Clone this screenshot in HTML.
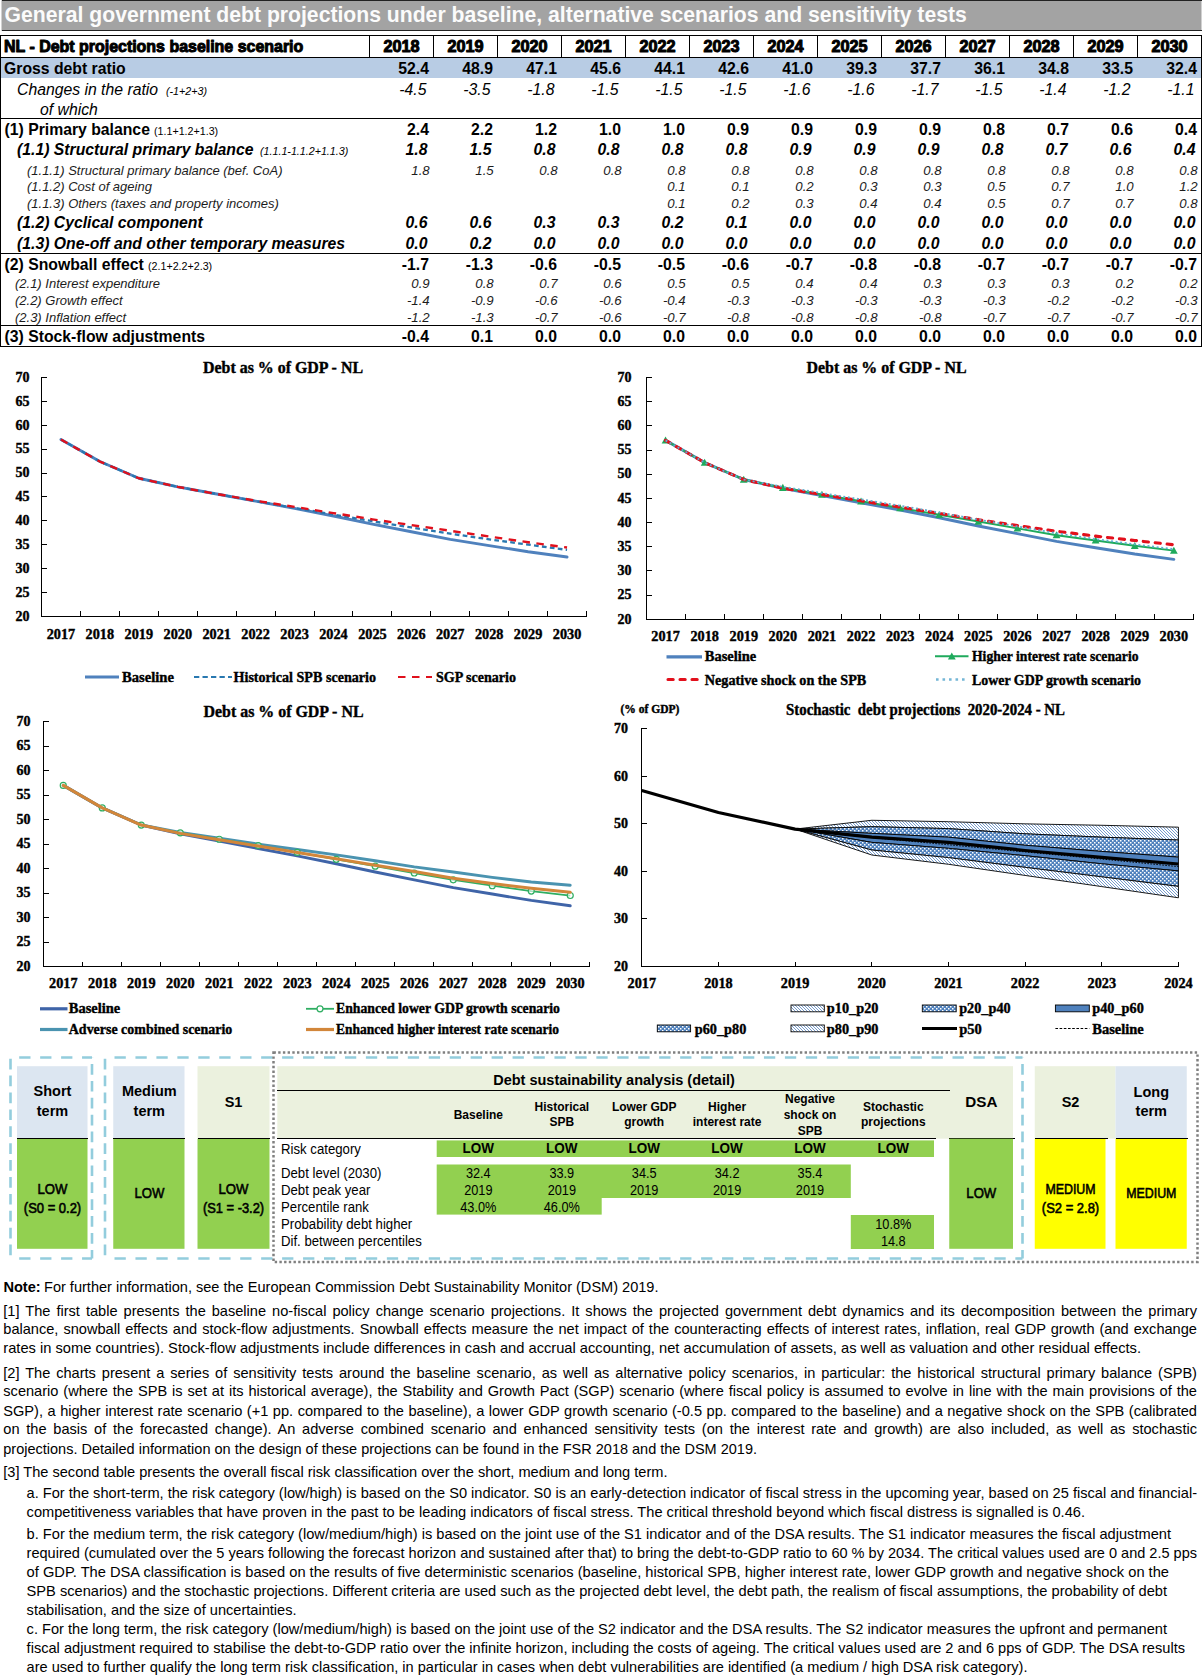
<!DOCTYPE html>
<html><head><meta charset="utf-8"><title>General government debt projections - NL</title>
<style>
html,body{margin:0;padding:0;background:#fff;}
svg{display:block;font-family:"Liberation Sans",sans-serif;}
text{fill:#000;white-space:pre;}
.b{font-weight:bold;}
.i{font-style:italic;}
.bi{font-weight:bold;font-style:italic;}
.hv{font-weight:bold;stroke:#000;stroke-width:0.95px;stroke-linejoin:round;}
.i2{font-style:italic;fill:#1c1c1c;}
.sb{font-weight:normal;stroke:#000;stroke-width:0.55px;}
.s{font-family:"Liberation Serif",serif;font-weight:bold;stroke:#000;stroke-width:0.4px;}
</style></head>
<body>
<svg width="1203" height="1678" viewBox="0 0 1203 1678">
<rect width="1203" height="1678" fill="#fff"/>
<rect x="1.50" y="0.00" width="1200.00" height="31.00" fill="#a3a3a3"/>
<line x1="1.50" y1="0.50" x2="1201.50" y2="0.50" stroke="#222" stroke-width="1" shape-rendering="crispEdges"/>
<line x1="1.50" y1="30.50" x2="1201.50" y2="30.50" stroke="#222" stroke-width="1" shape-rendering="crispEdges"/>
<text class="b" style="fill:#fbfbfb" font-size="21" transform="translate(4.60 21.70) scale(1.0080 1.0600)">General government debt projections under baseline, alternative scenarios and sensitivity tests</text>
<rect x="1.00" y="57.50" width="1200.50" height="20.50" fill="#b8cce4"/>
<line x1="0.00" y1="35.30" x2="1202.00" y2="35.30" stroke="#000" stroke-width="1.3" shape-rendering="crispEdges"/>
<line x1="0.60" y1="35.00" x2="0.60" y2="346.50" stroke="#000" stroke-width="1.2" shape-rendering="crispEdges"/>
<line x1="1201.50" y1="35.00" x2="1201.50" y2="346.50" stroke="#000" stroke-width="1" shape-rendering="crispEdges"/>
<line x1="0.00" y1="346.30" x2="1202.00" y2="346.30" stroke="#000" stroke-width="1.3" shape-rendering="crispEdges"/>
<line x1="0.50" y1="57.50" x2="1201.50" y2="57.50" stroke="#000" stroke-width="1" shape-rendering="crispEdges"/>
<line x1="369.50" y1="35.00" x2="369.50" y2="57.50" stroke="#000" stroke-width="1" shape-rendering="crispEdges"/>
<line x1="433.50" y1="35.00" x2="433.50" y2="57.50" stroke="#000" stroke-width="1" shape-rendering="crispEdges"/>
<line x1="497.50" y1="35.00" x2="497.50" y2="57.50" stroke="#000" stroke-width="1" shape-rendering="crispEdges"/>
<line x1="561.50" y1="35.00" x2="561.50" y2="57.50" stroke="#000" stroke-width="1" shape-rendering="crispEdges"/>
<line x1="625.50" y1="35.00" x2="625.50" y2="57.50" stroke="#000" stroke-width="1" shape-rendering="crispEdges"/>
<line x1="689.50" y1="35.00" x2="689.50" y2="57.50" stroke="#000" stroke-width="1" shape-rendering="crispEdges"/>
<line x1="753.50" y1="35.00" x2="753.50" y2="57.50" stroke="#000" stroke-width="1" shape-rendering="crispEdges"/>
<line x1="817.50" y1="35.00" x2="817.50" y2="57.50" stroke="#000" stroke-width="1" shape-rendering="crispEdges"/>
<line x1="881.50" y1="35.00" x2="881.50" y2="57.50" stroke="#000" stroke-width="1" shape-rendering="crispEdges"/>
<line x1="945.50" y1="35.00" x2="945.50" y2="57.50" stroke="#000" stroke-width="1" shape-rendering="crispEdges"/>
<line x1="1009.50" y1="35.00" x2="1009.50" y2="57.50" stroke="#000" stroke-width="1" shape-rendering="crispEdges"/>
<line x1="1073.50" y1="35.00" x2="1073.50" y2="57.50" stroke="#000" stroke-width="1" shape-rendering="crispEdges"/>
<line x1="1137.50" y1="35.00" x2="1137.50" y2="57.50" stroke="#000" stroke-width="1" shape-rendering="crispEdges"/>
<line x1="0.50" y1="118.50" x2="1201.50" y2="118.50" stroke="#000" stroke-width="1" shape-rendering="crispEdges"/>
<line x1="0.50" y1="253.50" x2="1201.50" y2="253.50" stroke="#000" stroke-width="1" shape-rendering="crispEdges"/>
<line x1="0.50" y1="325.70" x2="1201.50" y2="325.70" stroke="#000" stroke-width="1" shape-rendering="crispEdges"/>
<text class="hv" font-size="15.5" transform="translate(4.00 51.50) scale(1.0300 1.1000)">NL - Debt projections baseline scenario</text>
<text class="hv" text-anchor="middle" font-size="15.5" transform="translate(401.50 52.00) scale(1.0500 1.1000)">2018</text>
<text class="hv" text-anchor="middle" font-size="15.5" transform="translate(465.50 52.00) scale(1.0500 1.1000)">2019</text>
<text class="hv" text-anchor="middle" font-size="15.5" transform="translate(529.50 52.00) scale(1.0500 1.1000)">2020</text>
<text class="hv" text-anchor="middle" font-size="15.5" transform="translate(593.50 52.00) scale(1.0500 1.1000)">2021</text>
<text class="hv" text-anchor="middle" font-size="15.5" transform="translate(657.50 52.00) scale(1.0500 1.1000)">2022</text>
<text class="hv" text-anchor="middle" font-size="15.5" transform="translate(721.50 52.00) scale(1.0500 1.1000)">2023</text>
<text class="hv" text-anchor="middle" font-size="15.5" transform="translate(785.50 52.00) scale(1.0500 1.1000)">2024</text>
<text class="hv" text-anchor="middle" font-size="15.5" transform="translate(849.50 52.00) scale(1.0500 1.1000)">2025</text>
<text class="hv" text-anchor="middle" font-size="15.5" transform="translate(913.50 52.00) scale(1.0500 1.1000)">2026</text>
<text class="hv" text-anchor="middle" font-size="15.5" transform="translate(977.50 52.00) scale(1.0500 1.1000)">2027</text>
<text class="hv" text-anchor="middle" font-size="15.5" transform="translate(1041.50 52.00) scale(1.0500 1.1000)">2028</text>
<text class="hv" text-anchor="middle" font-size="15.5" transform="translate(1105.50 52.00) scale(1.0500 1.1000)">2029</text>
<text class="hv" text-anchor="middle" font-size="15.5" transform="translate(1169.50 52.00) scale(1.0500 1.1000)">2030</text>
<text class="b" font-size="15.5" transform="translate(4.00 74.00) scale(1.0180 1.1000)">Gross debt ratio</text>
<text class="b" text-anchor="end" font-size="15.5" transform="translate(429.00 74.00) scale(1.0180 1.1000)">52.4</text>
<text class="b" text-anchor="end" font-size="15.5" transform="translate(493.00 74.00) scale(1.0180 1.1000)">48.9</text>
<text class="b" text-anchor="end" font-size="15.5" transform="translate(557.00 74.00) scale(1.0180 1.1000)">47.1</text>
<text class="b" text-anchor="end" font-size="15.5" transform="translate(621.00 74.00) scale(1.0180 1.1000)">45.6</text>
<text class="b" text-anchor="end" font-size="15.5" transform="translate(685.00 74.00) scale(1.0180 1.1000)">44.1</text>
<text class="b" text-anchor="end" font-size="15.5" transform="translate(749.00 74.00) scale(1.0180 1.1000)">42.6</text>
<text class="b" text-anchor="end" font-size="15.5" transform="translate(813.00 74.00) scale(1.0180 1.1000)">41.0</text>
<text class="b" text-anchor="end" font-size="15.5" transform="translate(877.00 74.00) scale(1.0180 1.1000)">39.3</text>
<text class="b" text-anchor="end" font-size="15.5" transform="translate(941.00 74.00) scale(1.0180 1.1000)">37.7</text>
<text class="b" text-anchor="end" font-size="15.5" transform="translate(1005.00 74.00) scale(1.0180 1.1000)">36.1</text>
<text class="b" text-anchor="end" font-size="15.5" transform="translate(1069.00 74.00) scale(1.0180 1.1000)">34.8</text>
<text class="b" text-anchor="end" font-size="15.5" transform="translate(1133.00 74.00) scale(1.0180 1.1000)">33.5</text>
<text class="b" text-anchor="end" font-size="15.5" transform="translate(1197.00 74.00) scale(1.0180 1.1000)">32.4</text>
<text class="i" font-size="15.5" transform="translate(17.00 94.50) scale(1.0180 1.1000)">Changes in the ratio</text>
<text class="i" font-size="10.7" transform="translate(166.00 94.50) scale(1.0000 1.1000)">(-1+2+3)</text>
<text class="i" text-anchor="end" font-size="15.5" transform="translate(426.50 94.50) scale(1.0180 1.1000)">-4.5</text>
<text class="i" text-anchor="end" font-size="15.5" transform="translate(490.50 94.50) scale(1.0180 1.1000)">-3.5</text>
<text class="i" text-anchor="end" font-size="15.5" transform="translate(554.50 94.50) scale(1.0180 1.1000)">-1.8</text>
<text class="i" text-anchor="end" font-size="15.5" transform="translate(618.50 94.50) scale(1.0180 1.1000)">-1.5</text>
<text class="i" text-anchor="end" font-size="15.5" transform="translate(682.50 94.50) scale(1.0180 1.1000)">-1.5</text>
<text class="i" text-anchor="end" font-size="15.5" transform="translate(746.50 94.50) scale(1.0180 1.1000)">-1.5</text>
<text class="i" text-anchor="end" font-size="15.5" transform="translate(810.50 94.50) scale(1.0180 1.1000)">-1.6</text>
<text class="i" text-anchor="end" font-size="15.5" transform="translate(874.50 94.50) scale(1.0180 1.1000)">-1.6</text>
<text class="i" text-anchor="end" font-size="15.5" transform="translate(938.50 94.50) scale(1.0180 1.1000)">-1.7</text>
<text class="i" text-anchor="end" font-size="15.5" transform="translate(1002.50 94.50) scale(1.0180 1.1000)">-1.5</text>
<text class="i" text-anchor="end" font-size="15.5" transform="translate(1066.50 94.50) scale(1.0180 1.1000)">-1.4</text>
<text class="i" text-anchor="end" font-size="15.5" transform="translate(1130.50 94.50) scale(1.0180 1.1000)">-1.2</text>
<text class="i" text-anchor="end" font-size="15.5" transform="translate(1194.50 94.50) scale(1.0180 1.1000)">-1.1</text>
<text class="i" font-size="15.5" transform="translate(40.00 114.50) scale(1.0180 1.1000)">of which</text>
<text class="b" font-size="15.5" transform="translate(4.50 135.00) scale(1.0180 1.1000)">(1) Primary balance</text>
<text font-size="10.7" transform="translate(154.00 135.00) scale(1.0000 1.1000)">(1.1+1.2+1.3)</text>
<text class="b" text-anchor="end" font-size="15.5" transform="translate(429.00 135.00) scale(1.0180 1.1000)">2.4</text>
<text class="b" text-anchor="end" font-size="15.5" transform="translate(493.00 135.00) scale(1.0180 1.1000)">2.2</text>
<text class="b" text-anchor="end" font-size="15.5" transform="translate(557.00 135.00) scale(1.0180 1.1000)">1.2</text>
<text class="b" text-anchor="end" font-size="15.5" transform="translate(621.00 135.00) scale(1.0180 1.1000)">1.0</text>
<text class="b" text-anchor="end" font-size="15.5" transform="translate(685.00 135.00) scale(1.0180 1.1000)">1.0</text>
<text class="b" text-anchor="end" font-size="15.5" transform="translate(749.00 135.00) scale(1.0180 1.1000)">0.9</text>
<text class="b" text-anchor="end" font-size="15.5" transform="translate(813.00 135.00) scale(1.0180 1.1000)">0.9</text>
<text class="b" text-anchor="end" font-size="15.5" transform="translate(877.00 135.00) scale(1.0180 1.1000)">0.9</text>
<text class="b" text-anchor="end" font-size="15.5" transform="translate(941.00 135.00) scale(1.0180 1.1000)">0.9</text>
<text class="b" text-anchor="end" font-size="15.5" transform="translate(1005.00 135.00) scale(1.0180 1.1000)">0.8</text>
<text class="b" text-anchor="end" font-size="15.5" transform="translate(1069.00 135.00) scale(1.0180 1.1000)">0.7</text>
<text class="b" text-anchor="end" font-size="15.5" transform="translate(1133.00 135.00) scale(1.0180 1.1000)">0.6</text>
<text class="b" text-anchor="end" font-size="15.5" transform="translate(1197.00 135.00) scale(1.0180 1.1000)">0.4</text>
<text class="bi" font-size="15.5" transform="translate(17.00 155.00) scale(1.0180 1.1000)">(1.1) Structural primary balance</text>
<text class="i" font-size="10.7" transform="translate(260.00 155.00) scale(1.0000 1.1000)">(1.1.1-1.1.2+1.1.3)</text>
<text class="bi" text-anchor="end" font-size="15.5" transform="translate(427.50 155.00) scale(1.0180 1.1000)">1.8</text>
<text class="bi" text-anchor="end" font-size="15.5" transform="translate(491.50 155.00) scale(1.0180 1.1000)">1.5</text>
<text class="bi" text-anchor="end" font-size="15.5" transform="translate(555.50 155.00) scale(1.0180 1.1000)">0.8</text>
<text class="bi" text-anchor="end" font-size="15.5" transform="translate(619.50 155.00) scale(1.0180 1.1000)">0.8</text>
<text class="bi" text-anchor="end" font-size="15.5" transform="translate(683.50 155.00) scale(1.0180 1.1000)">0.8</text>
<text class="bi" text-anchor="end" font-size="15.5" transform="translate(747.50 155.00) scale(1.0180 1.1000)">0.8</text>
<text class="bi" text-anchor="end" font-size="15.5" transform="translate(811.50 155.00) scale(1.0180 1.1000)">0.9</text>
<text class="bi" text-anchor="end" font-size="15.5" transform="translate(875.50 155.00) scale(1.0180 1.1000)">0.9</text>
<text class="bi" text-anchor="end" font-size="15.5" transform="translate(939.50 155.00) scale(1.0180 1.1000)">0.9</text>
<text class="bi" text-anchor="end" font-size="15.5" transform="translate(1003.50 155.00) scale(1.0180 1.1000)">0.8</text>
<text class="bi" text-anchor="end" font-size="15.5" transform="translate(1067.50 155.00) scale(1.0180 1.1000)">0.7</text>
<text class="bi" text-anchor="end" font-size="15.5" transform="translate(1131.50 155.00) scale(1.0180 1.1000)">0.6</text>
<text class="bi" text-anchor="end" font-size="15.5" transform="translate(1195.50 155.00) scale(1.0180 1.1000)">0.4</text>
<text class="i2" font-size="13" transform="translate(27.00 174.50) scale(1.0000 1.0500)">(1.1.1) Structural primary balance (bef. CoA)</text>
<text class="i2" text-anchor="end" font-size="13" transform="translate(429.70 174.50) scale(1.0180 1.0500)">1.8</text>
<text class="i2" text-anchor="end" font-size="13" transform="translate(493.70 174.50) scale(1.0180 1.0500)">1.5</text>
<text class="i2" text-anchor="end" font-size="13" transform="translate(557.70 174.50) scale(1.0180 1.0500)">0.8</text>
<text class="i2" text-anchor="end" font-size="13" transform="translate(621.70 174.50) scale(1.0180 1.0500)">0.8</text>
<text class="i2" text-anchor="end" font-size="13" transform="translate(685.70 174.50) scale(1.0180 1.0500)">0.8</text>
<text class="i2" text-anchor="end" font-size="13" transform="translate(749.70 174.50) scale(1.0180 1.0500)">0.8</text>
<text class="i2" text-anchor="end" font-size="13" transform="translate(813.70 174.50) scale(1.0180 1.0500)">0.8</text>
<text class="i2" text-anchor="end" font-size="13" transform="translate(877.70 174.50) scale(1.0180 1.0500)">0.8</text>
<text class="i2" text-anchor="end" font-size="13" transform="translate(941.70 174.50) scale(1.0180 1.0500)">0.8</text>
<text class="i2" text-anchor="end" font-size="13" transform="translate(1005.70 174.50) scale(1.0180 1.0500)">0.8</text>
<text class="i2" text-anchor="end" font-size="13" transform="translate(1069.70 174.50) scale(1.0180 1.0500)">0.8</text>
<text class="i2" text-anchor="end" font-size="13" transform="translate(1133.70 174.50) scale(1.0180 1.0500)">0.8</text>
<text class="i2" text-anchor="end" font-size="13" transform="translate(1197.70 174.50) scale(1.0180 1.0500)">0.8</text>
<text class="i2" font-size="13" transform="translate(27.00 191.00) scale(1.0000 1.0500)">(1.1.2) Cost of ageing</text>
<text class="i2" text-anchor="end" font-size="13" transform="translate(685.70 191.00) scale(1.0180 1.0500)">0.1</text>
<text class="i2" text-anchor="end" font-size="13" transform="translate(749.70 191.00) scale(1.0180 1.0500)">0.1</text>
<text class="i2" text-anchor="end" font-size="13" transform="translate(813.70 191.00) scale(1.0180 1.0500)">0.2</text>
<text class="i2" text-anchor="end" font-size="13" transform="translate(877.70 191.00) scale(1.0180 1.0500)">0.3</text>
<text class="i2" text-anchor="end" font-size="13" transform="translate(941.70 191.00) scale(1.0180 1.0500)">0.3</text>
<text class="i2" text-anchor="end" font-size="13" transform="translate(1005.70 191.00) scale(1.0180 1.0500)">0.5</text>
<text class="i2" text-anchor="end" font-size="13" transform="translate(1069.70 191.00) scale(1.0180 1.0500)">0.7</text>
<text class="i2" text-anchor="end" font-size="13" transform="translate(1133.70 191.00) scale(1.0180 1.0500)">1.0</text>
<text class="i2" text-anchor="end" font-size="13" transform="translate(1197.70 191.00) scale(1.0180 1.0500)">1.2</text>
<text class="i2" font-size="13" transform="translate(27.00 208.00) scale(1.0000 1.0500)">(1.1.3) Others (taxes and property incomes)</text>
<text class="i2" text-anchor="end" font-size="13" transform="translate(685.70 208.00) scale(1.0180 1.0500)">0.1</text>
<text class="i2" text-anchor="end" font-size="13" transform="translate(749.70 208.00) scale(1.0180 1.0500)">0.2</text>
<text class="i2" text-anchor="end" font-size="13" transform="translate(813.70 208.00) scale(1.0180 1.0500)">0.3</text>
<text class="i2" text-anchor="end" font-size="13" transform="translate(877.70 208.00) scale(1.0180 1.0500)">0.4</text>
<text class="i2" text-anchor="end" font-size="13" transform="translate(941.70 208.00) scale(1.0180 1.0500)">0.4</text>
<text class="i2" text-anchor="end" font-size="13" transform="translate(1005.70 208.00) scale(1.0180 1.0500)">0.5</text>
<text class="i2" text-anchor="end" font-size="13" transform="translate(1069.70 208.00) scale(1.0180 1.0500)">0.7</text>
<text class="i2" text-anchor="end" font-size="13" transform="translate(1133.70 208.00) scale(1.0180 1.0500)">0.7</text>
<text class="i2" text-anchor="end" font-size="13" transform="translate(1197.70 208.00) scale(1.0180 1.0500)">0.8</text>
<text class="bi" font-size="15.5" transform="translate(17.00 227.50) scale(1.0180 1.1000)">(1.2) Cyclical component</text>
<text class="bi" text-anchor="end" font-size="15.5" transform="translate(427.50 227.50) scale(1.0180 1.1000)">0.6</text>
<text class="bi" text-anchor="end" font-size="15.5" transform="translate(491.50 227.50) scale(1.0180 1.1000)">0.6</text>
<text class="bi" text-anchor="end" font-size="15.5" transform="translate(555.50 227.50) scale(1.0180 1.1000)">0.3</text>
<text class="bi" text-anchor="end" font-size="15.5" transform="translate(619.50 227.50) scale(1.0180 1.1000)">0.3</text>
<text class="bi" text-anchor="end" font-size="15.5" transform="translate(683.50 227.50) scale(1.0180 1.1000)">0.2</text>
<text class="bi" text-anchor="end" font-size="15.5" transform="translate(747.50 227.50) scale(1.0180 1.1000)">0.1</text>
<text class="bi" text-anchor="end" font-size="15.5" transform="translate(811.50 227.50) scale(1.0180 1.1000)">0.0</text>
<text class="bi" text-anchor="end" font-size="15.5" transform="translate(875.50 227.50) scale(1.0180 1.1000)">0.0</text>
<text class="bi" text-anchor="end" font-size="15.5" transform="translate(939.50 227.50) scale(1.0180 1.1000)">0.0</text>
<text class="bi" text-anchor="end" font-size="15.5" transform="translate(1003.50 227.50) scale(1.0180 1.1000)">0.0</text>
<text class="bi" text-anchor="end" font-size="15.5" transform="translate(1067.50 227.50) scale(1.0180 1.1000)">0.0</text>
<text class="bi" text-anchor="end" font-size="15.5" transform="translate(1131.50 227.50) scale(1.0180 1.1000)">0.0</text>
<text class="bi" text-anchor="end" font-size="15.5" transform="translate(1195.50 227.50) scale(1.0180 1.1000)">0.0</text>
<text class="bi" font-size="15.5" transform="translate(17.00 248.50) scale(1.0180 1.1000)">(1.3) One-off and other temporary measures</text>
<text class="bi" text-anchor="end" font-size="15.5" transform="translate(427.50 248.50) scale(1.0180 1.1000)">0.0</text>
<text class="bi" text-anchor="end" font-size="15.5" transform="translate(491.50 248.50) scale(1.0180 1.1000)">0.2</text>
<text class="bi" text-anchor="end" font-size="15.5" transform="translate(555.50 248.50) scale(1.0180 1.1000)">0.0</text>
<text class="bi" text-anchor="end" font-size="15.5" transform="translate(619.50 248.50) scale(1.0180 1.1000)">0.0</text>
<text class="bi" text-anchor="end" font-size="15.5" transform="translate(683.50 248.50) scale(1.0180 1.1000)">0.0</text>
<text class="bi" text-anchor="end" font-size="15.5" transform="translate(747.50 248.50) scale(1.0180 1.1000)">0.0</text>
<text class="bi" text-anchor="end" font-size="15.5" transform="translate(811.50 248.50) scale(1.0180 1.1000)">0.0</text>
<text class="bi" text-anchor="end" font-size="15.5" transform="translate(875.50 248.50) scale(1.0180 1.1000)">0.0</text>
<text class="bi" text-anchor="end" font-size="15.5" transform="translate(939.50 248.50) scale(1.0180 1.1000)">0.0</text>
<text class="bi" text-anchor="end" font-size="15.5" transform="translate(1003.50 248.50) scale(1.0180 1.1000)">0.0</text>
<text class="bi" text-anchor="end" font-size="15.5" transform="translate(1067.50 248.50) scale(1.0180 1.1000)">0.0</text>
<text class="bi" text-anchor="end" font-size="15.5" transform="translate(1131.50 248.50) scale(1.0180 1.1000)">0.0</text>
<text class="bi" text-anchor="end" font-size="15.5" transform="translate(1195.50 248.50) scale(1.0180 1.1000)">0.0</text>
<text class="b" font-size="15.5" transform="translate(4.50 270.00) scale(1.0180 1.1000)">(2) Snowball effect</text>
<text font-size="10.7" transform="translate(148.00 270.00) scale(1.0000 1.1000)">(2.1+2.2+2.3)</text>
<text class="b" text-anchor="end" font-size="15.5" transform="translate(429.00 270.00) scale(1.0180 1.1000)">-1.7</text>
<text class="b" text-anchor="end" font-size="15.5" transform="translate(493.00 270.00) scale(1.0180 1.1000)">-1.3</text>
<text class="b" text-anchor="end" font-size="15.5" transform="translate(557.00 270.00) scale(1.0180 1.1000)">-0.6</text>
<text class="b" text-anchor="end" font-size="15.5" transform="translate(621.00 270.00) scale(1.0180 1.1000)">-0.5</text>
<text class="b" text-anchor="end" font-size="15.5" transform="translate(685.00 270.00) scale(1.0180 1.1000)">-0.5</text>
<text class="b" text-anchor="end" font-size="15.5" transform="translate(749.00 270.00) scale(1.0180 1.1000)">-0.6</text>
<text class="b" text-anchor="end" font-size="15.5" transform="translate(813.00 270.00) scale(1.0180 1.1000)">-0.7</text>
<text class="b" text-anchor="end" font-size="15.5" transform="translate(877.00 270.00) scale(1.0180 1.1000)">-0.8</text>
<text class="b" text-anchor="end" font-size="15.5" transform="translate(941.00 270.00) scale(1.0180 1.1000)">-0.8</text>
<text class="b" text-anchor="end" font-size="15.5" transform="translate(1005.00 270.00) scale(1.0180 1.1000)">-0.7</text>
<text class="b" text-anchor="end" font-size="15.5" transform="translate(1069.00 270.00) scale(1.0180 1.1000)">-0.7</text>
<text class="b" text-anchor="end" font-size="15.5" transform="translate(1133.00 270.00) scale(1.0180 1.1000)">-0.7</text>
<text class="b" text-anchor="end" font-size="15.5" transform="translate(1197.00 270.00) scale(1.0180 1.1000)">-0.7</text>
<text class="i2" font-size="13" transform="translate(15.00 288.00) scale(1.0000 1.0500)">(2.1) Interest expenditure</text>
<text class="i2" text-anchor="end" font-size="13" transform="translate(429.70 288.00) scale(1.0180 1.0500)">0.9</text>
<text class="i2" text-anchor="end" font-size="13" transform="translate(493.70 288.00) scale(1.0180 1.0500)">0.8</text>
<text class="i2" text-anchor="end" font-size="13" transform="translate(557.70 288.00) scale(1.0180 1.0500)">0.7</text>
<text class="i2" text-anchor="end" font-size="13" transform="translate(621.70 288.00) scale(1.0180 1.0500)">0.6</text>
<text class="i2" text-anchor="end" font-size="13" transform="translate(685.70 288.00) scale(1.0180 1.0500)">0.5</text>
<text class="i2" text-anchor="end" font-size="13" transform="translate(749.70 288.00) scale(1.0180 1.0500)">0.5</text>
<text class="i2" text-anchor="end" font-size="13" transform="translate(813.70 288.00) scale(1.0180 1.0500)">0.4</text>
<text class="i2" text-anchor="end" font-size="13" transform="translate(877.70 288.00) scale(1.0180 1.0500)">0.4</text>
<text class="i2" text-anchor="end" font-size="13" transform="translate(941.70 288.00) scale(1.0180 1.0500)">0.3</text>
<text class="i2" text-anchor="end" font-size="13" transform="translate(1005.70 288.00) scale(1.0180 1.0500)">0.3</text>
<text class="i2" text-anchor="end" font-size="13" transform="translate(1069.70 288.00) scale(1.0180 1.0500)">0.3</text>
<text class="i2" text-anchor="end" font-size="13" transform="translate(1133.70 288.00) scale(1.0180 1.0500)">0.2</text>
<text class="i2" text-anchor="end" font-size="13" transform="translate(1197.70 288.00) scale(1.0180 1.0500)">0.2</text>
<text class="i2" font-size="13" transform="translate(15.00 305.00) scale(1.0000 1.0500)">(2.2) Growth effect</text>
<text class="i2" text-anchor="end" font-size="13" transform="translate(429.70 305.00) scale(1.0180 1.0500)">-1.4</text>
<text class="i2" text-anchor="end" font-size="13" transform="translate(493.70 305.00) scale(1.0180 1.0500)">-0.9</text>
<text class="i2" text-anchor="end" font-size="13" transform="translate(557.70 305.00) scale(1.0180 1.0500)">-0.6</text>
<text class="i2" text-anchor="end" font-size="13" transform="translate(621.70 305.00) scale(1.0180 1.0500)">-0.6</text>
<text class="i2" text-anchor="end" font-size="13" transform="translate(685.70 305.00) scale(1.0180 1.0500)">-0.4</text>
<text class="i2" text-anchor="end" font-size="13" transform="translate(749.70 305.00) scale(1.0180 1.0500)">-0.3</text>
<text class="i2" text-anchor="end" font-size="13" transform="translate(813.70 305.00) scale(1.0180 1.0500)">-0.3</text>
<text class="i2" text-anchor="end" font-size="13" transform="translate(877.70 305.00) scale(1.0180 1.0500)">-0.3</text>
<text class="i2" text-anchor="end" font-size="13" transform="translate(941.70 305.00) scale(1.0180 1.0500)">-0.3</text>
<text class="i2" text-anchor="end" font-size="13" transform="translate(1005.70 305.00) scale(1.0180 1.0500)">-0.3</text>
<text class="i2" text-anchor="end" font-size="13" transform="translate(1069.70 305.00) scale(1.0180 1.0500)">-0.2</text>
<text class="i2" text-anchor="end" font-size="13" transform="translate(1133.70 305.00) scale(1.0180 1.0500)">-0.2</text>
<text class="i2" text-anchor="end" font-size="13" transform="translate(1197.70 305.00) scale(1.0180 1.0500)">-0.3</text>
<text class="i2" font-size="13" transform="translate(15.00 322.00) scale(1.0000 1.0500)">(2.3) Inflation effect</text>
<text class="i2" text-anchor="end" font-size="13" transform="translate(429.70 322.00) scale(1.0180 1.0500)">-1.2</text>
<text class="i2" text-anchor="end" font-size="13" transform="translate(493.70 322.00) scale(1.0180 1.0500)">-1.3</text>
<text class="i2" text-anchor="end" font-size="13" transform="translate(557.70 322.00) scale(1.0180 1.0500)">-0.7</text>
<text class="i2" text-anchor="end" font-size="13" transform="translate(621.70 322.00) scale(1.0180 1.0500)">-0.6</text>
<text class="i2" text-anchor="end" font-size="13" transform="translate(685.70 322.00) scale(1.0180 1.0500)">-0.7</text>
<text class="i2" text-anchor="end" font-size="13" transform="translate(749.70 322.00) scale(1.0180 1.0500)">-0.8</text>
<text class="i2" text-anchor="end" font-size="13" transform="translate(813.70 322.00) scale(1.0180 1.0500)">-0.8</text>
<text class="i2" text-anchor="end" font-size="13" transform="translate(877.70 322.00) scale(1.0180 1.0500)">-0.8</text>
<text class="i2" text-anchor="end" font-size="13" transform="translate(941.70 322.00) scale(1.0180 1.0500)">-0.8</text>
<text class="i2" text-anchor="end" font-size="13" transform="translate(1005.70 322.00) scale(1.0180 1.0500)">-0.7</text>
<text class="i2" text-anchor="end" font-size="13" transform="translate(1069.70 322.00) scale(1.0180 1.0500)">-0.7</text>
<text class="i2" text-anchor="end" font-size="13" transform="translate(1133.70 322.00) scale(1.0180 1.0500)">-0.7</text>
<text class="i2" text-anchor="end" font-size="13" transform="translate(1197.70 322.00) scale(1.0180 1.0500)">-0.7</text>
<text class="b" font-size="15.5" transform="translate(4.50 341.50) scale(1.0180 1.1000)">(3) Stock-flow adjustments</text>
<text class="b" text-anchor="end" font-size="15.5" transform="translate(429.00 341.50) scale(1.0180 1.1000)">-0.4</text>
<text class="b" text-anchor="end" font-size="15.5" transform="translate(493.00 341.50) scale(1.0180 1.1000)">0.1</text>
<text class="b" text-anchor="end" font-size="15.5" transform="translate(557.00 341.50) scale(1.0180 1.1000)">0.0</text>
<text class="b" text-anchor="end" font-size="15.5" transform="translate(621.00 341.50) scale(1.0180 1.1000)">0.0</text>
<text class="b" text-anchor="end" font-size="15.5" transform="translate(685.00 341.50) scale(1.0180 1.1000)">0.0</text>
<text class="b" text-anchor="end" font-size="15.5" transform="translate(749.00 341.50) scale(1.0180 1.1000)">0.0</text>
<text class="b" text-anchor="end" font-size="15.5" transform="translate(813.00 341.50) scale(1.0180 1.1000)">0.0</text>
<text class="b" text-anchor="end" font-size="15.5" transform="translate(877.00 341.50) scale(1.0180 1.1000)">0.0</text>
<text class="b" text-anchor="end" font-size="15.5" transform="translate(941.00 341.50) scale(1.0180 1.1000)">0.0</text>
<text class="b" text-anchor="end" font-size="15.5" transform="translate(1005.00 341.50) scale(1.0180 1.1000)">0.0</text>
<text class="b" text-anchor="end" font-size="15.5" transform="translate(1069.00 341.50) scale(1.0180 1.1000)">0.0</text>
<text class="b" text-anchor="end" font-size="15.5" transform="translate(1133.00 341.50) scale(1.0180 1.1000)">0.0</text>
<text class="b" text-anchor="end" font-size="15.5" transform="translate(1197.00 341.50) scale(1.0180 1.1000)">0.0</text>
<line x1="41.50" y1="377.00" x2="41.50" y2="616.75" stroke="#000" stroke-width="1" shape-rendering="crispEdges"/>
<line x1="41.00" y1="616.25" x2="587.02" y2="616.25" stroke="#000" stroke-width="1" shape-rendering="crispEdges"/>
<line x1="41.50" y1="377.50" x2="47.00" y2="377.50" stroke="#000" stroke-width="1" shape-rendering="crispEdges"/>
<text class="s" text-anchor="end" font-size="14" x="29.50" y="381.75" textLength="14.00" lengthAdjust="spacingAndGlyphs">70</text>
<line x1="41.50" y1="401.38" x2="47.00" y2="401.38" stroke="#000" stroke-width="1" shape-rendering="crispEdges"/>
<text class="s" text-anchor="end" font-size="14" x="29.50" y="405.62" textLength="14.00" lengthAdjust="spacingAndGlyphs">65</text>
<line x1="41.50" y1="425.25" x2="47.00" y2="425.25" stroke="#000" stroke-width="1" shape-rendering="crispEdges"/>
<text class="s" text-anchor="end" font-size="14" x="29.50" y="429.50" textLength="14.00" lengthAdjust="spacingAndGlyphs">60</text>
<line x1="41.50" y1="449.12" x2="47.00" y2="449.12" stroke="#000" stroke-width="1" shape-rendering="crispEdges"/>
<text class="s" text-anchor="end" font-size="14" x="29.50" y="453.38" textLength="14.00" lengthAdjust="spacingAndGlyphs">55</text>
<line x1="41.50" y1="473.00" x2="47.00" y2="473.00" stroke="#000" stroke-width="1" shape-rendering="crispEdges"/>
<text class="s" text-anchor="end" font-size="14" x="29.50" y="477.25" textLength="14.00" lengthAdjust="spacingAndGlyphs">50</text>
<line x1="41.50" y1="496.88" x2="47.00" y2="496.88" stroke="#000" stroke-width="1" shape-rendering="crispEdges"/>
<text class="s" text-anchor="end" font-size="14" x="29.50" y="501.12" textLength="14.00" lengthAdjust="spacingAndGlyphs">45</text>
<line x1="41.50" y1="520.75" x2="47.00" y2="520.75" stroke="#000" stroke-width="1" shape-rendering="crispEdges"/>
<text class="s" text-anchor="end" font-size="14" x="29.50" y="525.00" textLength="14.00" lengthAdjust="spacingAndGlyphs">40</text>
<line x1="41.50" y1="544.62" x2="47.00" y2="544.62" stroke="#000" stroke-width="1" shape-rendering="crispEdges"/>
<text class="s" text-anchor="end" font-size="14" x="29.50" y="548.88" textLength="14.00" lengthAdjust="spacingAndGlyphs">35</text>
<line x1="41.50" y1="568.50" x2="47.00" y2="568.50" stroke="#000" stroke-width="1" shape-rendering="crispEdges"/>
<text class="s" text-anchor="end" font-size="14" x="29.50" y="572.75" textLength="14.00" lengthAdjust="spacingAndGlyphs">30</text>
<line x1="41.50" y1="592.38" x2="47.00" y2="592.38" stroke="#000" stroke-width="1" shape-rendering="crispEdges"/>
<text class="s" text-anchor="end" font-size="14" x="29.50" y="596.62" textLength="14.00" lengthAdjust="spacingAndGlyphs">25</text>
<line x1="41.50" y1="616.25" x2="47.00" y2="616.25" stroke="#000" stroke-width="1" shape-rendering="crispEdges"/>
<text class="s" text-anchor="end" font-size="14" x="29.50" y="620.50" textLength="14.00" lengthAdjust="spacingAndGlyphs">20</text>
<line x1="80.43" y1="616.25" x2="80.43" y2="611.25" stroke="#000" stroke-width="1" shape-rendering="crispEdges"/>
<line x1="119.36" y1="616.25" x2="119.36" y2="611.25" stroke="#000" stroke-width="1" shape-rendering="crispEdges"/>
<line x1="158.29" y1="616.25" x2="158.29" y2="611.25" stroke="#000" stroke-width="1" shape-rendering="crispEdges"/>
<line x1="197.22" y1="616.25" x2="197.22" y2="611.25" stroke="#000" stroke-width="1" shape-rendering="crispEdges"/>
<line x1="236.15" y1="616.25" x2="236.15" y2="611.25" stroke="#000" stroke-width="1" shape-rendering="crispEdges"/>
<line x1="275.08" y1="616.25" x2="275.08" y2="611.25" stroke="#000" stroke-width="1" shape-rendering="crispEdges"/>
<line x1="314.01" y1="616.25" x2="314.01" y2="611.25" stroke="#000" stroke-width="1" shape-rendering="crispEdges"/>
<line x1="352.94" y1="616.25" x2="352.94" y2="611.25" stroke="#000" stroke-width="1" shape-rendering="crispEdges"/>
<line x1="391.87" y1="616.25" x2="391.87" y2="611.25" stroke="#000" stroke-width="1" shape-rendering="crispEdges"/>
<line x1="430.80" y1="616.25" x2="430.80" y2="611.25" stroke="#000" stroke-width="1" shape-rendering="crispEdges"/>
<line x1="469.73" y1="616.25" x2="469.73" y2="611.25" stroke="#000" stroke-width="1" shape-rendering="crispEdges"/>
<line x1="508.66" y1="616.25" x2="508.66" y2="611.25" stroke="#000" stroke-width="1" shape-rendering="crispEdges"/>
<line x1="547.59" y1="616.25" x2="547.59" y2="611.25" stroke="#000" stroke-width="1" shape-rendering="crispEdges"/>
<line x1="586.52" y1="616.25" x2="586.52" y2="611.25" stroke="#000" stroke-width="1" shape-rendering="crispEdges"/>
<text class="s" text-anchor="middle" font-size="14" x="60.97" y="638.80" textLength="28.50" lengthAdjust="spacingAndGlyphs">2017</text>
<text class="s" text-anchor="middle" font-size="14" x="99.89" y="638.80" textLength="28.50" lengthAdjust="spacingAndGlyphs">2018</text>
<text class="s" text-anchor="middle" font-size="14" x="138.82" y="638.80" textLength="28.50" lengthAdjust="spacingAndGlyphs">2019</text>
<text class="s" text-anchor="middle" font-size="14" x="177.75" y="638.80" textLength="28.50" lengthAdjust="spacingAndGlyphs">2020</text>
<text class="s" text-anchor="middle" font-size="14" x="216.69" y="638.80" textLength="28.50" lengthAdjust="spacingAndGlyphs">2021</text>
<text class="s" text-anchor="middle" font-size="14" x="255.62" y="638.80" textLength="28.50" lengthAdjust="spacingAndGlyphs">2022</text>
<text class="s" text-anchor="middle" font-size="14" x="294.54" y="638.80" textLength="28.50" lengthAdjust="spacingAndGlyphs">2023</text>
<text class="s" text-anchor="middle" font-size="14" x="333.48" y="638.80" textLength="28.50" lengthAdjust="spacingAndGlyphs">2024</text>
<text class="s" text-anchor="middle" font-size="14" x="372.40" y="638.80" textLength="28.50" lengthAdjust="spacingAndGlyphs">2025</text>
<text class="s" text-anchor="middle" font-size="14" x="411.33" y="638.80" textLength="28.50" lengthAdjust="spacingAndGlyphs">2026</text>
<text class="s" text-anchor="middle" font-size="14" x="450.26" y="638.80" textLength="28.50" lengthAdjust="spacingAndGlyphs">2027</text>
<text class="s" text-anchor="middle" font-size="14" x="489.19" y="638.80" textLength="28.50" lengthAdjust="spacingAndGlyphs">2028</text>
<text class="s" text-anchor="middle" font-size="14" x="528.12" y="638.80" textLength="28.50" lengthAdjust="spacingAndGlyphs">2029</text>
<text class="s" text-anchor="middle" font-size="14" x="567.05" y="638.80" textLength="28.50" lengthAdjust="spacingAndGlyphs">2030</text>
<text class="s" text-anchor="middle" font-size="16" x="283.00" y="373.00" textLength="160.00" lengthAdjust="spacingAndGlyphs">Debt as % of GDP - NL</text>
<polyline points="60.97,439.57 99.89,461.54 138.82,478.25 177.75,486.85 216.69,494.01 255.62,501.17 294.54,508.34 333.48,515.98 372.40,524.09 411.33,531.73 450.26,539.37 489.19,545.58 528.12,551.79 567.05,557.04" fill="none" stroke="#4f81bd" stroke-width="2.9" stroke-linejoin="round" stroke-linecap="round"/>
<polyline points="60.97,439.57 99.89,461.54 138.82,478.25 177.75,486.85 216.69,494.01 255.62,501.17 294.54,507.86 333.48,514.54 372.40,521.23 411.33,527.43 450.26,533.64 489.19,539.37 528.12,544.62 567.05,549.88" fill="none" stroke="#2878b0" stroke-width="2.3" stroke-linejoin="round" stroke-dasharray="4.7 3.3"/>
<polyline points="60.97,439.57 99.89,461.54 138.82,478.25 177.75,486.85 216.69,494.01 255.62,500.69 294.54,506.90 333.48,513.11 372.40,519.32 411.33,525.05 450.26,530.78 489.19,536.51 528.12,542.24 567.05,547.49" fill="none" stroke="#e0101c" stroke-width="2.4" stroke-linejoin="round" stroke-dasharray="7.5 6.5"/>
<line x1="85.00" y1="677.00" x2="119.00" y2="677.00" stroke="#4f81bd" stroke-width="3.2"/>
<text class="s" font-size="15" x="122.00" y="681.50" textLength="52.00" lengthAdjust="spacingAndGlyphs">Baseline</text>
<line x1="194.00" y1="677.00" x2="232.00" y2="677.00" stroke="#2878b0" stroke-width="2" stroke-dasharray="5.3 3.2"/>
<text class="s" font-size="15" x="233.50" y="681.50" textLength="142.50" lengthAdjust="spacingAndGlyphs">Historical SPB scenario</text>
<line x1="398.00" y1="677.00" x2="432.00" y2="677.00" stroke="#e0101c" stroke-width="2.2" stroke-dasharray="7.5 6.5"/>
<text class="s" font-size="15" x="436.00" y="681.50" textLength="80.00" lengthAdjust="spacingAndGlyphs">SGP scenario</text>
<line x1="646.00" y1="377.00" x2="646.00" y2="619.80" stroke="#000" stroke-width="1" shape-rendering="crispEdges"/>
<line x1="645.50" y1="619.30" x2="1193.90" y2="619.30" stroke="#000" stroke-width="1" shape-rendering="crispEdges"/>
<line x1="646.00" y1="377.50" x2="651.50" y2="377.50" stroke="#000" stroke-width="1" shape-rendering="crispEdges"/>
<text class="s" text-anchor="end" font-size="14" x="631.50" y="381.75" textLength="14.00" lengthAdjust="spacingAndGlyphs">70</text>
<line x1="646.00" y1="401.68" x2="651.50" y2="401.68" stroke="#000" stroke-width="1" shape-rendering="crispEdges"/>
<text class="s" text-anchor="end" font-size="14" x="631.50" y="405.93" textLength="14.00" lengthAdjust="spacingAndGlyphs">65</text>
<line x1="646.00" y1="425.86" x2="651.50" y2="425.86" stroke="#000" stroke-width="1" shape-rendering="crispEdges"/>
<text class="s" text-anchor="end" font-size="14" x="631.50" y="430.11" textLength="14.00" lengthAdjust="spacingAndGlyphs">60</text>
<line x1="646.00" y1="450.04" x2="651.50" y2="450.04" stroke="#000" stroke-width="1" shape-rendering="crispEdges"/>
<text class="s" text-anchor="end" font-size="14" x="631.50" y="454.29" textLength="14.00" lengthAdjust="spacingAndGlyphs">55</text>
<line x1="646.00" y1="474.22" x2="651.50" y2="474.22" stroke="#000" stroke-width="1" shape-rendering="crispEdges"/>
<text class="s" text-anchor="end" font-size="14" x="631.50" y="478.47" textLength="14.00" lengthAdjust="spacingAndGlyphs">50</text>
<line x1="646.00" y1="498.40" x2="651.50" y2="498.40" stroke="#000" stroke-width="1" shape-rendering="crispEdges"/>
<text class="s" text-anchor="end" font-size="14" x="631.50" y="502.65" textLength="14.00" lengthAdjust="spacingAndGlyphs">45</text>
<line x1="646.00" y1="522.58" x2="651.50" y2="522.58" stroke="#000" stroke-width="1" shape-rendering="crispEdges"/>
<text class="s" text-anchor="end" font-size="14" x="631.50" y="526.83" textLength="14.00" lengthAdjust="spacingAndGlyphs">40</text>
<line x1="646.00" y1="546.76" x2="651.50" y2="546.76" stroke="#000" stroke-width="1" shape-rendering="crispEdges"/>
<text class="s" text-anchor="end" font-size="14" x="631.50" y="551.01" textLength="14.00" lengthAdjust="spacingAndGlyphs">35</text>
<line x1="646.00" y1="570.94" x2="651.50" y2="570.94" stroke="#000" stroke-width="1" shape-rendering="crispEdges"/>
<text class="s" text-anchor="end" font-size="14" x="631.50" y="575.19" textLength="14.00" lengthAdjust="spacingAndGlyphs">30</text>
<line x1="646.00" y1="595.12" x2="651.50" y2="595.12" stroke="#000" stroke-width="1" shape-rendering="crispEdges"/>
<text class="s" text-anchor="end" font-size="14" x="631.50" y="599.37" textLength="14.00" lengthAdjust="spacingAndGlyphs">25</text>
<line x1="646.00" y1="619.30" x2="651.50" y2="619.30" stroke="#000" stroke-width="1" shape-rendering="crispEdges"/>
<text class="s" text-anchor="end" font-size="14" x="631.50" y="623.55" textLength="14.00" lengthAdjust="spacingAndGlyphs">20</text>
<line x1="685.10" y1="619.30" x2="685.10" y2="614.30" stroke="#000" stroke-width="1" shape-rendering="crispEdges"/>
<line x1="724.20" y1="619.30" x2="724.20" y2="614.30" stroke="#000" stroke-width="1" shape-rendering="crispEdges"/>
<line x1="763.30" y1="619.30" x2="763.30" y2="614.30" stroke="#000" stroke-width="1" shape-rendering="crispEdges"/>
<line x1="802.40" y1="619.30" x2="802.40" y2="614.30" stroke="#000" stroke-width="1" shape-rendering="crispEdges"/>
<line x1="841.50" y1="619.30" x2="841.50" y2="614.30" stroke="#000" stroke-width="1" shape-rendering="crispEdges"/>
<line x1="880.60" y1="619.30" x2="880.60" y2="614.30" stroke="#000" stroke-width="1" shape-rendering="crispEdges"/>
<line x1="919.70" y1="619.30" x2="919.70" y2="614.30" stroke="#000" stroke-width="1" shape-rendering="crispEdges"/>
<line x1="958.80" y1="619.30" x2="958.80" y2="614.30" stroke="#000" stroke-width="1" shape-rendering="crispEdges"/>
<line x1="997.90" y1="619.30" x2="997.90" y2="614.30" stroke="#000" stroke-width="1" shape-rendering="crispEdges"/>
<line x1="1037.00" y1="619.30" x2="1037.00" y2="614.30" stroke="#000" stroke-width="1" shape-rendering="crispEdges"/>
<line x1="1076.10" y1="619.30" x2="1076.10" y2="614.30" stroke="#000" stroke-width="1" shape-rendering="crispEdges"/>
<line x1="1115.20" y1="619.30" x2="1115.20" y2="614.30" stroke="#000" stroke-width="1" shape-rendering="crispEdges"/>
<line x1="1154.30" y1="619.30" x2="1154.30" y2="614.30" stroke="#000" stroke-width="1" shape-rendering="crispEdges"/>
<line x1="1193.40" y1="619.30" x2="1193.40" y2="614.30" stroke="#000" stroke-width="1" shape-rendering="crispEdges"/>
<text class="s" text-anchor="middle" font-size="14" x="665.55" y="641.30" textLength="28.50" lengthAdjust="spacingAndGlyphs">2017</text>
<text class="s" text-anchor="middle" font-size="14" x="704.65" y="641.30" textLength="28.50" lengthAdjust="spacingAndGlyphs">2018</text>
<text class="s" text-anchor="middle" font-size="14" x="743.75" y="641.30" textLength="28.50" lengthAdjust="spacingAndGlyphs">2019</text>
<text class="s" text-anchor="middle" font-size="14" x="782.85" y="641.30" textLength="28.50" lengthAdjust="spacingAndGlyphs">2020</text>
<text class="s" text-anchor="middle" font-size="14" x="821.95" y="641.30" textLength="28.50" lengthAdjust="spacingAndGlyphs">2021</text>
<text class="s" text-anchor="middle" font-size="14" x="861.05" y="641.30" textLength="28.50" lengthAdjust="spacingAndGlyphs">2022</text>
<text class="s" text-anchor="middle" font-size="14" x="900.15" y="641.30" textLength="28.50" lengthAdjust="spacingAndGlyphs">2023</text>
<text class="s" text-anchor="middle" font-size="14" x="939.25" y="641.30" textLength="28.50" lengthAdjust="spacingAndGlyphs">2024</text>
<text class="s" text-anchor="middle" font-size="14" x="978.35" y="641.30" textLength="28.50" lengthAdjust="spacingAndGlyphs">2025</text>
<text class="s" text-anchor="middle" font-size="14" x="1017.45" y="641.30" textLength="28.50" lengthAdjust="spacingAndGlyphs">2026</text>
<text class="s" text-anchor="middle" font-size="14" x="1056.55" y="641.30" textLength="28.50" lengthAdjust="spacingAndGlyphs">2027</text>
<text class="s" text-anchor="middle" font-size="14" x="1095.65" y="641.30" textLength="28.50" lengthAdjust="spacingAndGlyphs">2028</text>
<text class="s" text-anchor="middle" font-size="14" x="1134.75" y="641.30" textLength="28.50" lengthAdjust="spacingAndGlyphs">2029</text>
<text class="s" text-anchor="middle" font-size="14" x="1173.85" y="641.30" textLength="28.50" lengthAdjust="spacingAndGlyphs">2030</text>
<text class="s" text-anchor="middle" font-size="16" x="886.50" y="373.00" textLength="160.00" lengthAdjust="spacingAndGlyphs">Debt as % of GDP - NL</text>
<polyline points="665.55,440.37 704.65,462.61 743.75,479.54 782.85,488.24 821.95,495.50 861.05,502.75 900.15,510.01 939.25,517.74 978.35,525.97 1017.45,533.70 1056.55,541.44 1095.65,547.73 1134.75,554.01 1173.85,559.33" fill="none" stroke="#4f81bd" stroke-width="2.9" stroke-linejoin="round" stroke-linecap="round"/>
<polyline points="665.55,440.37 704.65,462.61 743.75,479.54 782.85,487.76 821.95,494.53 861.05,501.30 900.15,508.07 939.25,514.84 978.35,521.61 1017.45,528.38 1056.55,535.15 1095.65,540.47 1134.75,545.79 1173.85,550.63" fill="none" stroke="#1faa5c" stroke-width="2" stroke-linejoin="round"/>
<path d="M665.55 436.47 L669.45 443.49 L661.65 443.49 Z" fill="#1faa5c"/>
<path d="M704.65 458.71 L708.55 465.73 L700.75 465.73 Z" fill="#1faa5c"/>
<path d="M743.75 475.64 L747.65 482.66 L739.85 482.66 Z" fill="#1faa5c"/>
<path d="M782.85 483.86 L786.75 490.88 L778.95 490.88 Z" fill="#1faa5c"/>
<path d="M821.95 490.63 L825.85 497.65 L818.05 497.65 Z" fill="#1faa5c"/>
<path d="M861.05 497.40 L864.95 504.42 L857.15 504.42 Z" fill="#1faa5c"/>
<path d="M900.15 504.17 L904.05 511.19 L896.25 511.19 Z" fill="#1faa5c"/>
<path d="M939.25 510.94 L943.15 517.96 L935.35 517.96 Z" fill="#1faa5c"/>
<path d="M978.35 517.71 L982.25 524.73 L974.45 524.73 Z" fill="#1faa5c"/>
<path d="M1017.45 524.48 L1021.35 531.50 L1013.55 531.50 Z" fill="#1faa5c"/>
<path d="M1056.55 531.25 L1060.45 538.27 L1052.65 538.27 Z" fill="#1faa5c"/>
<path d="M1095.65 536.57 L1099.55 543.59 L1091.75 543.59 Z" fill="#1faa5c"/>
<path d="M1134.75 541.89 L1138.65 548.91 L1130.85 548.91 Z" fill="#1faa5c"/>
<path d="M1173.85 546.73 L1177.75 553.75 L1169.95 553.75 Z" fill="#1faa5c"/>
<polyline points="665.55,440.37 704.65,462.61 743.75,479.54 782.85,488.24 821.95,494.53 861.05,500.82 900.15,507.10 939.25,513.39 978.35,519.68 1017.45,525.48 1056.55,531.28 1095.65,536.12 1134.75,540.47 1173.85,544.83" fill="none" stroke="#e2101c" stroke-width="3.1" stroke-linejoin="round" stroke-dasharray="5.2 6.8" stroke-linecap="round"/>
<polyline points="665.55,440.37 704.65,462.61 743.75,479.54 782.85,486.79 821.95,493.08 861.05,499.37 900.15,505.65 939.25,512.42 978.35,519.68 1017.45,526.45 1056.55,533.22 1095.65,539.02 1134.75,544.34 1173.85,549.18" fill="none" stroke="#5fafd0" stroke-width="1.8" stroke-linejoin="round" stroke-dasharray="2 2.6"/>
<line x1="666.50" y1="656.80" x2="702.00" y2="656.80" stroke="#4f81bd" stroke-width="3.2"/>
<text class="s" font-size="15" x="704.80" y="661.00" textLength="51.50" lengthAdjust="spacingAndGlyphs">Baseline</text>
<line x1="668.00" y1="679.50" x2="699.00" y2="679.50" stroke="#e2101c" stroke-width="3.1" stroke-dasharray="5.2 6.8" stroke-linecap="round"/>
<text class="s" font-size="15" x="704.80" y="684.50" textLength="161.50" lengthAdjust="spacingAndGlyphs">Negative shock on the SPB</text>
<line x1="935.00" y1="656.30" x2="968.50" y2="656.30" stroke="#1faa5c" stroke-width="2"/>
<path d="M951.80 652.40 L955.70 659.42 L947.90 659.42 Z" fill="#1faa5c"/>
<text class="s" font-size="15" x="972.00" y="661.00" textLength="166.50" lengthAdjust="spacingAndGlyphs">Higher interest rate scenario</text>
<line x1="936.00" y1="679.50" x2="968.50" y2="679.50" stroke="#74b6d6" stroke-width="2.3" stroke-dasharray="2.6 3.9"/>
<text class="s" font-size="15" x="972.00" y="684.50" textLength="169.00" lengthAdjust="spacingAndGlyphs">Lower GDP growth scenario</text>
<line x1="43.75" y1="721.25" x2="43.75" y2="967.00" stroke="#000" stroke-width="1" shape-rendering="crispEdges"/>
<line x1="43.25" y1="966.50" x2="590.25" y2="966.50" stroke="#000" stroke-width="1" shape-rendering="crispEdges"/>
<line x1="43.75" y1="721.75" x2="49.25" y2="721.75" stroke="#000" stroke-width="1" shape-rendering="crispEdges"/>
<text class="s" text-anchor="end" font-size="14" x="30.50" y="726.00" textLength="14.00" lengthAdjust="spacingAndGlyphs">70</text>
<line x1="43.75" y1="746.23" x2="49.25" y2="746.23" stroke="#000" stroke-width="1" shape-rendering="crispEdges"/>
<text class="s" text-anchor="end" font-size="14" x="30.50" y="750.48" textLength="14.00" lengthAdjust="spacingAndGlyphs">65</text>
<line x1="43.75" y1="770.70" x2="49.25" y2="770.70" stroke="#000" stroke-width="1" shape-rendering="crispEdges"/>
<text class="s" text-anchor="end" font-size="14" x="30.50" y="774.95" textLength="14.00" lengthAdjust="spacingAndGlyphs">60</text>
<line x1="43.75" y1="795.17" x2="49.25" y2="795.17" stroke="#000" stroke-width="1" shape-rendering="crispEdges"/>
<text class="s" text-anchor="end" font-size="14" x="30.50" y="799.42" textLength="14.00" lengthAdjust="spacingAndGlyphs">55</text>
<line x1="43.75" y1="819.65" x2="49.25" y2="819.65" stroke="#000" stroke-width="1" shape-rendering="crispEdges"/>
<text class="s" text-anchor="end" font-size="14" x="30.50" y="823.90" textLength="14.00" lengthAdjust="spacingAndGlyphs">50</text>
<line x1="43.75" y1="844.12" x2="49.25" y2="844.12" stroke="#000" stroke-width="1" shape-rendering="crispEdges"/>
<text class="s" text-anchor="end" font-size="14" x="30.50" y="848.38" textLength="14.00" lengthAdjust="spacingAndGlyphs">45</text>
<line x1="43.75" y1="868.60" x2="49.25" y2="868.60" stroke="#000" stroke-width="1" shape-rendering="crispEdges"/>
<text class="s" text-anchor="end" font-size="14" x="30.50" y="872.85" textLength="14.00" lengthAdjust="spacingAndGlyphs">40</text>
<line x1="43.75" y1="893.08" x2="49.25" y2="893.08" stroke="#000" stroke-width="1" shape-rendering="crispEdges"/>
<text class="s" text-anchor="end" font-size="14" x="30.50" y="897.33" textLength="14.00" lengthAdjust="spacingAndGlyphs">35</text>
<line x1="43.75" y1="917.55" x2="49.25" y2="917.55" stroke="#000" stroke-width="1" shape-rendering="crispEdges"/>
<text class="s" text-anchor="end" font-size="14" x="30.50" y="921.80" textLength="14.00" lengthAdjust="spacingAndGlyphs">30</text>
<line x1="43.75" y1="942.02" x2="49.25" y2="942.02" stroke="#000" stroke-width="1" shape-rendering="crispEdges"/>
<text class="s" text-anchor="end" font-size="14" x="30.50" y="946.27" textLength="14.00" lengthAdjust="spacingAndGlyphs">25</text>
<line x1="43.75" y1="966.50" x2="49.25" y2="966.50" stroke="#000" stroke-width="1" shape-rendering="crispEdges"/>
<text class="s" text-anchor="end" font-size="14" x="30.50" y="970.75" textLength="14.00" lengthAdjust="spacingAndGlyphs">20</text>
<line x1="82.75" y1="966.50" x2="82.75" y2="961.50" stroke="#000" stroke-width="1" shape-rendering="crispEdges"/>
<line x1="121.75" y1="966.50" x2="121.75" y2="961.50" stroke="#000" stroke-width="1" shape-rendering="crispEdges"/>
<line x1="160.75" y1="966.50" x2="160.75" y2="961.50" stroke="#000" stroke-width="1" shape-rendering="crispEdges"/>
<line x1="199.75" y1="966.50" x2="199.75" y2="961.50" stroke="#000" stroke-width="1" shape-rendering="crispEdges"/>
<line x1="238.75" y1="966.50" x2="238.75" y2="961.50" stroke="#000" stroke-width="1" shape-rendering="crispEdges"/>
<line x1="277.75" y1="966.50" x2="277.75" y2="961.50" stroke="#000" stroke-width="1" shape-rendering="crispEdges"/>
<line x1="316.75" y1="966.50" x2="316.75" y2="961.50" stroke="#000" stroke-width="1" shape-rendering="crispEdges"/>
<line x1="355.75" y1="966.50" x2="355.75" y2="961.50" stroke="#000" stroke-width="1" shape-rendering="crispEdges"/>
<line x1="394.75" y1="966.50" x2="394.75" y2="961.50" stroke="#000" stroke-width="1" shape-rendering="crispEdges"/>
<line x1="433.75" y1="966.50" x2="433.75" y2="961.50" stroke="#000" stroke-width="1" shape-rendering="crispEdges"/>
<line x1="472.75" y1="966.50" x2="472.75" y2="961.50" stroke="#000" stroke-width="1" shape-rendering="crispEdges"/>
<line x1="511.75" y1="966.50" x2="511.75" y2="961.50" stroke="#000" stroke-width="1" shape-rendering="crispEdges"/>
<line x1="550.75" y1="966.50" x2="550.75" y2="961.50" stroke="#000" stroke-width="1" shape-rendering="crispEdges"/>
<line x1="589.75" y1="966.50" x2="589.75" y2="961.50" stroke="#000" stroke-width="1" shape-rendering="crispEdges"/>
<text class="s" text-anchor="middle" font-size="14" x="63.25" y="988.00" textLength="28.50" lengthAdjust="spacingAndGlyphs">2017</text>
<text class="s" text-anchor="middle" font-size="14" x="102.25" y="988.00" textLength="28.50" lengthAdjust="spacingAndGlyphs">2018</text>
<text class="s" text-anchor="middle" font-size="14" x="141.25" y="988.00" textLength="28.50" lengthAdjust="spacingAndGlyphs">2019</text>
<text class="s" text-anchor="middle" font-size="14" x="180.25" y="988.00" textLength="28.50" lengthAdjust="spacingAndGlyphs">2020</text>
<text class="s" text-anchor="middle" font-size="14" x="219.25" y="988.00" textLength="28.50" lengthAdjust="spacingAndGlyphs">2021</text>
<text class="s" text-anchor="middle" font-size="14" x="258.25" y="988.00" textLength="28.50" lengthAdjust="spacingAndGlyphs">2022</text>
<text class="s" text-anchor="middle" font-size="14" x="297.25" y="988.00" textLength="28.50" lengthAdjust="spacingAndGlyphs">2023</text>
<text class="s" text-anchor="middle" font-size="14" x="336.25" y="988.00" textLength="28.50" lengthAdjust="spacingAndGlyphs">2024</text>
<text class="s" text-anchor="middle" font-size="14" x="375.25" y="988.00" textLength="28.50" lengthAdjust="spacingAndGlyphs">2025</text>
<text class="s" text-anchor="middle" font-size="14" x="414.25" y="988.00" textLength="28.50" lengthAdjust="spacingAndGlyphs">2026</text>
<text class="s" text-anchor="middle" font-size="14" x="453.25" y="988.00" textLength="28.50" lengthAdjust="spacingAndGlyphs">2027</text>
<text class="s" text-anchor="middle" font-size="14" x="492.25" y="988.00" textLength="28.50" lengthAdjust="spacingAndGlyphs">2028</text>
<text class="s" text-anchor="middle" font-size="14" x="531.25" y="988.00" textLength="28.50" lengthAdjust="spacingAndGlyphs">2029</text>
<text class="s" text-anchor="middle" font-size="14" x="570.25" y="988.00" textLength="28.50" lengthAdjust="spacingAndGlyphs">2030</text>
<text class="s" text-anchor="middle" font-size="16" x="283.50" y="717.00" textLength="160.00" lengthAdjust="spacingAndGlyphs">Debt as % of GDP - NL</text>
<polyline points="63.25,785.38 102.25,807.90 141.25,825.03 180.25,833.85 219.25,841.19 258.25,848.53 297.25,855.87 336.25,863.71 375.25,872.03 414.25,879.86 453.25,887.69 492.25,894.05 531.25,900.42 570.25,905.80" fill="none" stroke="#3f64a8" stroke-width="2.9" stroke-linejoin="round" stroke-linecap="round"/>
<polyline points="63.25,785.38 102.25,807.90 141.25,825.03 180.25,832.38 219.25,838.25 258.25,844.12 297.25,849.51 336.25,854.89 375.25,860.77 414.25,866.89 453.25,872.03 492.25,877.41 531.25,882.06 570.25,885.24" fill="none" stroke="#4a93b0" stroke-width="2.9" stroke-linejoin="round" stroke-linecap="round"/>
<polyline points="63.25,785.38 102.25,807.90 141.25,825.03 180.25,832.87 219.25,839.23 258.25,845.59 297.25,852.45 336.25,859.30 375.25,866.15 414.25,873.01 453.25,879.86 492.25,885.73 531.25,891.12 570.25,895.52" fill="none" stroke="#2fae62" stroke-width="1.8" stroke-linejoin="round"/>
<circle cx="63.25" cy="785.38" r="3" fill="#fff" fill-opacity="0.6" stroke="#2fae62" stroke-width="1.2"/>
<circle cx="102.25" cy="807.90" r="3" fill="#fff" fill-opacity="0.6" stroke="#2fae62" stroke-width="1.2"/>
<circle cx="141.25" cy="825.03" r="3" fill="#fff" fill-opacity="0.6" stroke="#2fae62" stroke-width="1.2"/>
<circle cx="180.25" cy="832.87" r="3" fill="#fff" fill-opacity="0.6" stroke="#2fae62" stroke-width="1.2"/>
<circle cx="219.25" cy="839.23" r="3" fill="#fff" fill-opacity="0.6" stroke="#2fae62" stroke-width="1.2"/>
<circle cx="258.25" cy="845.59" r="3" fill="#fff" fill-opacity="0.6" stroke="#2fae62" stroke-width="1.2"/>
<circle cx="297.25" cy="852.45" r="3" fill="#fff" fill-opacity="0.6" stroke="#2fae62" stroke-width="1.2"/>
<circle cx="336.25" cy="859.30" r="3" fill="#fff" fill-opacity="0.6" stroke="#2fae62" stroke-width="1.2"/>
<circle cx="375.25" cy="866.15" r="3" fill="#fff" fill-opacity="0.6" stroke="#2fae62" stroke-width="1.2"/>
<circle cx="414.25" cy="873.01" r="3" fill="#fff" fill-opacity="0.6" stroke="#2fae62" stroke-width="1.2"/>
<circle cx="453.25" cy="879.86" r="3" fill="#fff" fill-opacity="0.6" stroke="#2fae62" stroke-width="1.2"/>
<circle cx="492.25" cy="885.73" r="3" fill="#fff" fill-opacity="0.6" stroke="#2fae62" stroke-width="1.2"/>
<circle cx="531.25" cy="891.12" r="3" fill="#fff" fill-opacity="0.6" stroke="#2fae62" stroke-width="1.2"/>
<circle cx="570.25" cy="895.52" r="3" fill="#fff" fill-opacity="0.6" stroke="#2fae62" stroke-width="1.2"/>
<polyline points="63.25,785.38 102.25,807.90 141.25,825.03 180.25,833.36 219.25,839.72 258.25,846.08 297.25,852.45 336.25,858.81 375.25,865.17 414.25,871.54 453.25,878.15 492.25,883.53 531.25,888.18 570.25,892.34" fill="none" stroke="#d2863a" stroke-width="3.0" stroke-linejoin="round" stroke-linecap="round"/>
<line x1="40.00" y1="1008.80" x2="67.50" y2="1008.80" stroke="#3f64a8" stroke-width="3.2"/>
<text class="s" font-size="15" x="68.80" y="1013.00" textLength="51.50" lengthAdjust="spacingAndGlyphs">Baseline</text>
<line x1="40.00" y1="1029.50" x2="67.50" y2="1029.50" stroke="#4a93b0" stroke-width="3.2"/>
<text class="s" font-size="15" x="68.80" y="1034.30" textLength="163.50" lengthAdjust="spacingAndGlyphs">Adverse combined scenario</text>
<line x1="306.00" y1="1008.80" x2="334.00" y2="1008.80" stroke="#2fae62" stroke-width="1.8"/>
<circle cx="320" cy="1008.8" r="3" fill="#fff" stroke="#2fae62" stroke-width="1.2"/>
<text class="s" font-size="15" x="336.00" y="1013.00" textLength="224.00" lengthAdjust="spacingAndGlyphs">Enhanced lower GDP growth scenario</text>
<line x1="306.00" y1="1029.50" x2="334.00" y2="1029.50" stroke="#d2863a" stroke-width="3.2"/>
<text class="s" font-size="15" x="336.00" y="1034.30" textLength="223.00" lengthAdjust="spacingAndGlyphs">Enhanced higher interest rate scenario</text>
<line x1="641.75" y1="728.25" x2="641.75" y2="967.00" stroke="#000" stroke-width="1" shape-rendering="crispEdges"/>
<line x1="641.25" y1="966.50" x2="1178.94" y2="966.50" stroke="#000" stroke-width="1" shape-rendering="crispEdges"/>
<line x1="641.75" y1="728.75" x2="647.25" y2="728.75" stroke="#000" stroke-width="1" shape-rendering="crispEdges"/>
<text class="s" text-anchor="end" font-size="14" x="628.00" y="733.00" textLength="14.00" lengthAdjust="spacingAndGlyphs">70</text>
<line x1="641.75" y1="776.30" x2="647.25" y2="776.30" stroke="#000" stroke-width="1" shape-rendering="crispEdges"/>
<text class="s" text-anchor="end" font-size="14" x="628.00" y="780.55" textLength="14.00" lengthAdjust="spacingAndGlyphs">60</text>
<line x1="641.75" y1="823.85" x2="647.25" y2="823.85" stroke="#000" stroke-width="1" shape-rendering="crispEdges"/>
<text class="s" text-anchor="end" font-size="14" x="628.00" y="828.10" textLength="14.00" lengthAdjust="spacingAndGlyphs">50</text>
<line x1="641.75" y1="871.40" x2="647.25" y2="871.40" stroke="#000" stroke-width="1" shape-rendering="crispEdges"/>
<text class="s" text-anchor="end" font-size="14" x="628.00" y="875.65" textLength="14.00" lengthAdjust="spacingAndGlyphs">40</text>
<line x1="641.75" y1="918.95" x2="647.25" y2="918.95" stroke="#000" stroke-width="1" shape-rendering="crispEdges"/>
<text class="s" text-anchor="end" font-size="14" x="628.00" y="923.20" textLength="14.00" lengthAdjust="spacingAndGlyphs">30</text>
<line x1="641.75" y1="966.50" x2="647.25" y2="966.50" stroke="#000" stroke-width="1" shape-rendering="crispEdges"/>
<text class="s" text-anchor="end" font-size="14" x="628.00" y="970.75" textLength="14.00" lengthAdjust="spacingAndGlyphs">20</text>
<line x1="718.42" y1="966.50" x2="718.42" y2="961.50" stroke="#000" stroke-width="1" shape-rendering="crispEdges"/>
<line x1="795.09" y1="966.50" x2="795.09" y2="961.50" stroke="#000" stroke-width="1" shape-rendering="crispEdges"/>
<line x1="871.76" y1="966.50" x2="871.76" y2="961.50" stroke="#000" stroke-width="1" shape-rendering="crispEdges"/>
<line x1="948.43" y1="966.50" x2="948.43" y2="961.50" stroke="#000" stroke-width="1" shape-rendering="crispEdges"/>
<line x1="1025.10" y1="966.50" x2="1025.10" y2="961.50" stroke="#000" stroke-width="1" shape-rendering="crispEdges"/>
<line x1="1101.77" y1="966.50" x2="1101.77" y2="961.50" stroke="#000" stroke-width="1" shape-rendering="crispEdges"/>
<line x1="1178.44" y1="966.50" x2="1178.44" y2="961.50" stroke="#000" stroke-width="1" shape-rendering="crispEdges"/>
<text class="s" text-anchor="middle" font-size="14" x="641.75" y="988.00" textLength="28.50" lengthAdjust="spacingAndGlyphs">2017</text>
<text class="s" text-anchor="middle" font-size="14" x="718.42" y="988.00" textLength="28.50" lengthAdjust="spacingAndGlyphs">2018</text>
<text class="s" text-anchor="middle" font-size="14" x="795.09" y="988.00" textLength="28.50" lengthAdjust="spacingAndGlyphs">2019</text>
<text class="s" text-anchor="middle" font-size="14" x="871.76" y="988.00" textLength="28.50" lengthAdjust="spacingAndGlyphs">2020</text>
<text class="s" text-anchor="middle" font-size="14" x="948.43" y="988.00" textLength="28.50" lengthAdjust="spacingAndGlyphs">2021</text>
<text class="s" text-anchor="middle" font-size="14" x="1025.10" y="988.00" textLength="28.50" lengthAdjust="spacingAndGlyphs">2022</text>
<text class="s" text-anchor="middle" font-size="14" x="1101.77" y="988.00" textLength="28.50" lengthAdjust="spacingAndGlyphs">2023</text>
<text class="s" text-anchor="middle" font-size="14" x="1178.44" y="988.00" textLength="28.50" lengthAdjust="spacingAndGlyphs">2024</text>
<text class="s" font-size="11.5" x="620.50" y="713.20" textLength="58.80" lengthAdjust="spacingAndGlyphs">(% of GDP)</text>
<text class="s" font-size="16" x="786.00" y="715.00" textLength="279.00" lengthAdjust="spacingAndGlyphs">Stochastic  debt projections  2020-2024 - NL</text>
<defs>
<pattern id="hat" width="3" height="3" patternUnits="userSpaceOnUse"><rect width="3" height="3" fill="#fff"/><path d="M-1 -1 L4 4 M-1 2 L1 4 M2 -1 L4 1" stroke="#4275b8" stroke-width="0.72"/></pattern>
<pattern id="crs" width="4" height="4" patternUnits="userSpaceOnUse"><rect width="4" height="4" fill="#4f81bd"/><rect x="0" y="0" width="1.5" height="1.5" fill="#fff"/><rect x="2" y="2" width="1.5" height="1.5" fill="#fff"/></pattern>
</defs>
<polygon points="795.09,829.08 871.76,820.28 948.43,821.71 1025.10,823.85 1101.77,825.28 1178.44,827.18 1178.44,840.02 1101.77,837.16 1025.10,833.84 948.43,828.61 871.76,826.70 795.09,829.08" fill="url(#hat)" stroke="#000" stroke-width="0.9" stroke-linejoin="round"/>
<polygon points="795.09,829.08 871.76,826.70 948.43,828.61 1025.10,833.84 1101.77,837.16 1178.44,840.02 1178.44,857.13 1101.77,851.43 1025.10,845.25 948.43,837.16 871.76,833.36 795.09,829.08" fill="url(#crs)" stroke="#000" stroke-width="0.9" stroke-linejoin="round"/>
<polygon points="795.09,829.08 871.76,833.36 948.43,837.16 1025.10,845.25 1101.77,851.43 1178.44,857.13 1178.44,870.92 1101.77,863.79 1025.10,855.71 948.43,848.34 871.76,842.39 795.09,829.08" fill="#4f81bd" stroke="#000" stroke-width="0.9" stroke-linejoin="round"/>
<polygon points="795.09,829.08 871.76,842.39 948.43,848.34 1025.10,855.71 1101.77,863.79 1178.44,870.92 1178.44,886.38 1101.77,876.87 1025.10,867.36 948.43,857.61 871.76,850.00 795.09,829.08" fill="url(#crs)" stroke="#000" stroke-width="0.9" stroke-linejoin="round"/>
<polygon points="795.09,829.08 871.76,850.00 948.43,857.61 1025.10,867.36 1101.77,876.87 1178.44,886.38 1178.44,897.79 1101.77,886.62 1025.10,875.44 948.43,864.27 871.76,855.00 795.09,829.08" fill="url(#hat)" stroke="#000" stroke-width="0.9" stroke-linejoin="round"/>
<polyline points="641.75,790.57 718.42,812.44 795.09,829.08 871.76,837.16 948.43,842.39 1025.10,850.48 1101.77,857.37 1178.44,864.03" fill="none" stroke="#000" stroke-width="3.2" stroke-linejoin="round"/>
<polyline points="795.09,829.08 871.76,837.64 948.43,844.77 1025.10,851.90 1101.77,859.04 1178.44,866.64" fill="none" stroke="#000" stroke-width="1" stroke-linejoin="round" stroke-dasharray="1.5 1.5"/>
<rect x="791.00" y="1005.00" width="33.30" height="6.80" fill="url(#hat)" stroke="#000" stroke-width="0.9"/>
<text class="s" font-size="15" x="826.80" y="1013.00" textLength="51.70" lengthAdjust="spacingAndGlyphs">p10_p20</text>
<rect x="922.30" y="1005.00" width="33.90" height="6.80" fill="url(#crs)" stroke="#000" stroke-width="0.9"/>
<text class="s" font-size="15" x="959.20" y="1013.00" textLength="51.50" lengthAdjust="spacingAndGlyphs">p20_p40</text>
<rect x="1055.40" y="1005.00" width="33.90" height="6.80" fill="#4f81bd" stroke="#000" stroke-width="0.9"/>
<text class="s" font-size="15" x="1092.30" y="1013.00" textLength="51.50" lengthAdjust="spacingAndGlyphs">p40_p60</text>
<rect x="657.30" y="1025.00" width="33.30" height="6.80" fill="url(#crs)" stroke="#000" stroke-width="0.9"/>
<text class="s" font-size="15" x="694.80" y="1033.80" textLength="51.50" lengthAdjust="spacingAndGlyphs">p60_p80</text>
<rect x="791.00" y="1025.00" width="33.30" height="6.80" fill="url(#hat)" stroke="#000" stroke-width="0.9"/>
<text class="s" font-size="15" x="826.80" y="1033.80" textLength="51.70" lengthAdjust="spacingAndGlyphs">p80_p90</text>
<line x1="921.60" y1="1028.50" x2="956.70" y2="1028.50" stroke="#000" stroke-width="3.2" shape-rendering="crispEdges"/>
<text class="s" font-size="15" x="959.20" y="1033.80" textLength="22.60" lengthAdjust="spacingAndGlyphs">p50</text>
<line x1="1055.40" y1="1028.50" x2="1089.30" y2="1028.50" stroke="#000" stroke-width="1" stroke-dasharray="2.6 1.6"/>
<text class="s" font-size="15" x="1092.30" y="1033.80" textLength="51.50" lengthAdjust="spacingAndGlyphs">Baseline</text>
<rect x="17.00" y="1066.20" width="70.50" height="72.50" fill="#dce6f1"/>
<rect x="17.00" y="1138.70" width="70.50" height="110.10" fill="#92d050"/>
<line x1="17.00" y1="1138.70" x2="88.00" y2="1138.70" stroke="#000" stroke-width="1.3" shape-rendering="crispEdges"/>
<rect x="113.25" y="1066.20" width="71.25" height="72.50" fill="#dce6f1"/>
<rect x="113.25" y="1138.70" width="71.25" height="110.10" fill="#92d050"/>
<line x1="113.25" y1="1138.70" x2="185.00" y2="1138.70" stroke="#000" stroke-width="1.3" shape-rendering="crispEdges"/>
<rect x="197.50" y="1066.20" width="72.00" height="72.50" fill="#ebf1de"/>
<rect x="197.50" y="1138.70" width="72.00" height="110.10" fill="#92d050"/>
<line x1="197.50" y1="1138.70" x2="270.00" y2="1138.70" stroke="#000" stroke-width="1.3" shape-rendering="crispEdges"/>
<rect x="277.30" y="1066.20" width="735.70" height="72.50" fill="#ebf1de"/>
<line x1="277.30" y1="1090.30" x2="950.00" y2="1090.30" stroke="#000" stroke-width="1.3" shape-rendering="crispEdges"/>
<line x1="277.30" y1="1138.70" x2="935.50" y2="1138.70" stroke="#000" stroke-width="1.3" shape-rendering="crispEdges"/>
<line x1="949.25" y1="1138.70" x2="1015.00" y2="1138.70" stroke="#000" stroke-width="1.3" shape-rendering="crispEdges"/>
<rect x="949.25" y="1138.70" width="63.75" height="110.10" fill="#92d050"/>
<rect x="1034.75" y="1066.20" width="80.75" height="72.50" fill="#ebf1de"/>
<rect x="1034.75" y="1138.70" width="70.75" height="110.10" fill="#ffff00"/>
<line x1="1034.75" y1="1138.70" x2="1107.50" y2="1138.70" stroke="#000" stroke-width="1.3" shape-rendering="crispEdges"/>
<rect x="1115.50" y="1066.20" width="71.25" height="72.50" fill="#dce6f1"/>
<rect x="1115.50" y="1138.70" width="71.25" height="110.10" fill="#ffff00"/>
<line x1="1115.50" y1="1138.70" x2="1187.50" y2="1138.70" stroke="#000" stroke-width="1.3" shape-rendering="crispEdges"/>
<rect x="436.70" y="1140.40" width="497.30" height="16.60" fill="#92d050"/>
<rect x="436.70" y="1164.50" width="414.10" height="33.50" fill="#92d050"/>
<rect x="436.70" y="1198.00" width="165.00" height="16.60" fill="#92d050"/>
<rect x="850.80" y="1215.00" width="83.20" height="34.00" fill="#92d050"/>
<path d="M10.5 1057.5 H92" fill="none" stroke="#93cddd" stroke-width="2.6" stroke-dasharray="11.3 9.65" stroke-dashoffset="12.25"/>
<path d="M10.5 1258.5 H92" fill="none" stroke="#93cddd" stroke-width="2.6" stroke-dasharray="11.3 9.65" stroke-dashoffset="12.25"/>
<path d="M10.5 1057.5 V1258.5" fill="none" stroke="#93cddd" stroke-width="2.6" stroke-dasharray="10.7 6.2" stroke-dashoffset="15.70"/>
<path d="M92 1057.5 V1258.5" fill="none" stroke="#93cddd" stroke-width="2.6" stroke-dasharray="10.7 6.2" stroke-dashoffset="10.40"/>
<path d="M105 1057.5 H1022.5" fill="none" stroke="#93cddd" stroke-width="2.6" stroke-dasharray="11.3 9.65" stroke-dashoffset="11.45"/>
<path d="M105 1258.5 H1022.5" fill="none" stroke="#93cddd" stroke-width="2.6" stroke-dasharray="11.3 9.65" stroke-dashoffset="11.45"/>
<path d="M105 1057.5 V1258.5" fill="none" stroke="#93cddd" stroke-width="2.6" stroke-dasharray="10.7 6.2" stroke-dashoffset="15.70"/>
<path d="M1022.5 1057.5 V1258.5" fill="none" stroke="#93cddd" stroke-width="2.6" stroke-dasharray="10.7 6.2" stroke-dashoffset="10.40"/>
<path d="M273.5 1052.5 H1197.5 V1262 H273.5 Z" fill="none" stroke="#808080" stroke-width="2.5" stroke-dasharray="2.4 2.3"/>
<text class="b" text-anchor="middle" font-size="14.5" transform="translate(52.50 1096.30) scale(1.0000 1.0500)">Short</text>
<text class="b" text-anchor="middle" font-size="14.5" transform="translate(52.50 1116.30) scale(1.0000 1.0500)">term</text>
<text class="b" text-anchor="middle" font-size="14.5" transform="translate(149.30 1096.30) scale(1.0000 1.0500)">Medium</text>
<text class="b" text-anchor="middle" font-size="14.5" transform="translate(149.30 1116.30) scale(1.0000 1.0500)">term</text>
<text class="b" text-anchor="middle" font-size="14.5" transform="translate(233.50 1107.00) scale(1.0000 1.0500)">S1</text>
<text class="b" text-anchor="middle" font-size="14.5" transform="translate(614.00 1085.00) scale(1.0000 1.0500)">Debt sustainability analysis (detail)</text>
<text class="b" text-anchor="middle" font-size="14.5" transform="translate(981.30 1107.00) scale(1.0500 1.0500)">DSA</text>
<text class="b" text-anchor="middle" font-size="14.5" transform="translate(1070.50 1107.00) scale(1.0000 1.0500)">S2</text>
<text class="b" text-anchor="middle" font-size="14.5" transform="translate(1151.30 1097.00) scale(1.0000 1.0500)">Long</text>
<text class="b" text-anchor="middle" font-size="14.5" transform="translate(1151.30 1116.30) scale(1.0000 1.0500)">term</text>
<text class="b" text-anchor="middle" font-size="12" transform="translate(478.30 1118.50) scale(1.0000 1.0500)">Baseline</text>
<text class="b" text-anchor="middle" font-size="12" transform="translate(561.80 1110.70) scale(1.0000 1.0500)">Historical</text>
<text class="b" text-anchor="middle" font-size="12" transform="translate(561.80 1126.40) scale(1.0000 1.0500)">SPB</text>
<text class="b" text-anchor="middle" font-size="12" transform="translate(644.20 1110.70) scale(1.0000 1.0500)">Lower GDP</text>
<text class="b" text-anchor="middle" font-size="12" transform="translate(644.20 1126.40) scale(1.0000 1.0500)">growth</text>
<text class="b" text-anchor="middle" font-size="12" transform="translate(727.10 1110.70) scale(1.0000 1.0500)">Higher</text>
<text class="b" text-anchor="middle" font-size="12" transform="translate(727.10 1126.40) scale(1.0000 1.0500)">interest rate</text>
<text class="b" text-anchor="middle" font-size="12" transform="translate(810.00 1103.00) scale(1.0000 1.0500)">Negative</text>
<text class="b" text-anchor="middle" font-size="12" transform="translate(810.00 1119.00) scale(1.0000 1.0500)">shock on</text>
<text class="b" text-anchor="middle" font-size="12" transform="translate(810.00 1134.50) scale(1.0000 1.0500)">SPB</text>
<text class="b" text-anchor="middle" font-size="12" transform="translate(893.30 1110.70) scale(1.0000 1.0500)">Stochastic</text>
<text class="b" text-anchor="middle" font-size="12" transform="translate(893.30 1126.40) scale(1.0000 1.0500)">projections</text>
<text class="sb" text-anchor="middle" font-size="13.5" transform="translate(52.50 1193.80) scale(0.9750 1.0600)">LOW</text>
<text class="sb" text-anchor="middle" font-size="13.5" transform="translate(52.50 1212.50) scale(0.9620 1.0600)">(S0 = 0.2)</text>
<text class="sb" text-anchor="middle" font-size="13.5" transform="translate(149.50 1198.00) scale(0.9750 1.0600)">LOW</text>
<text class="sb" text-anchor="middle" font-size="13.5" transform="translate(233.50 1193.80) scale(0.9750 1.0600)">LOW</text>
<text class="sb" text-anchor="middle" font-size="13.5" transform="translate(233.50 1212.50) scale(0.9550 1.0600)">(S1 = -3.2)</text>
<text class="sb" text-anchor="middle" font-size="13.5" transform="translate(981.30 1198.00) scale(0.9750 1.0600)">LOW</text>
<text class="sb" text-anchor="middle" font-size="13.5" transform="translate(1070.50 1193.80) scale(0.9180 1.0600)">MEDIUM</text>
<text class="sb" text-anchor="middle" font-size="13.5" transform="translate(1070.50 1212.50) scale(0.9620 1.0600)">(S2 = 2.8)</text>
<text class="sb" text-anchor="middle" font-size="13.5" transform="translate(1151.30 1198.00) scale(0.9180 1.0600)">MEDIUM</text>
<text font-size="13" transform="translate(281.00 1153.70) scale(1.0150 1.1000)">Risk category</text>
<text font-size="13" transform="translate(281.00 1177.90) scale(1.0150 1.1000)">Debt level (2030)</text>
<text font-size="13" transform="translate(281.00 1194.80) scale(1.0150 1.1000)">Debt peak year</text>
<text font-size="13" transform="translate(281.00 1211.90) scale(1.0150 1.1000)">Percentile rank</text>
<text font-size="13" transform="translate(281.00 1228.90) scale(1.0150 1.1000)">Probability debt higher</text>
<text font-size="13" transform="translate(281.00 1245.90) scale(1.0150 1.1000)">Dif. between percentiles</text>
<text class="b" text-anchor="middle" font-size="13.5" transform="translate(478.30 1153.20) scale(1.0000 1.1000)">LOW</text>
<text class="b" text-anchor="middle" font-size="13.5" transform="translate(561.80 1153.20) scale(1.0000 1.1000)">LOW</text>
<text class="b" text-anchor="middle" font-size="13.5" transform="translate(644.20 1153.20) scale(1.0000 1.1000)">LOW</text>
<text class="b" text-anchor="middle" font-size="13.5" transform="translate(727.10 1153.20) scale(1.0000 1.1000)">LOW</text>
<text class="b" text-anchor="middle" font-size="13.5" transform="translate(810.00 1153.20) scale(1.0000 1.1000)">LOW</text>
<text class="b" text-anchor="middle" font-size="13.5" transform="translate(893.30 1153.20) scale(1.0000 1.1000)">LOW</text>
<text text-anchor="middle" font-size="13" transform="translate(478.30 1177.90) scale(0.9800 1.1000)">32.4</text>
<text text-anchor="middle" font-size="13" transform="translate(561.80 1177.90) scale(0.9800 1.1000)">33.9</text>
<text text-anchor="middle" font-size="13" transform="translate(644.20 1177.90) scale(0.9800 1.1000)">34.5</text>
<text text-anchor="middle" font-size="13" transform="translate(727.10 1177.90) scale(0.9800 1.1000)">34.2</text>
<text text-anchor="middle" font-size="13" transform="translate(810.00 1177.90) scale(0.9800 1.1000)">35.4</text>
<text text-anchor="middle" font-size="13" transform="translate(478.30 1194.80) scale(0.9800 1.1000)">2019</text>
<text text-anchor="middle" font-size="13" transform="translate(561.80 1194.80) scale(0.9800 1.1000)">2019</text>
<text text-anchor="middle" font-size="13" transform="translate(644.20 1194.80) scale(0.9800 1.1000)">2019</text>
<text text-anchor="middle" font-size="13" transform="translate(727.10 1194.80) scale(0.9800 1.1000)">2019</text>
<text text-anchor="middle" font-size="13" transform="translate(810.00 1194.80) scale(0.9800 1.1000)">2019</text>
<text text-anchor="middle" font-size="13" transform="translate(478.30 1211.90) scale(0.9800 1.1000)">43.0%</text>
<text text-anchor="middle" font-size="13" transform="translate(561.80 1211.90) scale(0.9800 1.1000)">46.0%</text>
<text text-anchor="middle" font-size="13" transform="translate(893.30 1228.90) scale(0.9800 1.1000)">10.8%</text>
<text text-anchor="middle" font-size="13" transform="translate(893.30 1245.90) scale(0.9800 1.1000)">14.8</text>
<text class="b" font-size="14.6" transform="translate(3.40 1292.00) scale(1.0000 1.0400)">Note:</text>
<text font-size="14.6" transform="translate(44 1292) scale(1 1.04)" textLength="614.5" lengthAdjust="spacingAndGlyphs">For further information, see the European Commission Debt Sustainability Monitor (DSM) 2019.</text>
<text font-size="14.6" transform="translate(3.3 1315.5) scale(1 1.04)" style="word-spacing:1.963px">[1] The first table presents the baseline no-fiscal policy change scenario projections. It shows the projected government debt dynamics and its decomposition between the primary</text>
<text font-size="14.6" transform="translate(3.3 1334.3) scale(1 1.04)" style="word-spacing:0.948px">balance, snowball effects and stock-flow adjustments. Snowball effects measure the net impact of the counteracting effects of interest rates, inflation, real GDP growth (and exchange</text>
<text font-size="14.6" transform="translate(3.3 1353.3) scale(1 1.04)" textLength="1137.7" lengthAdjust="spacingAndGlyphs">rates in some countries). Stock-flow adjustments include differences in cash and accrual accounting, net accumulation of assets, as well as valuation and other residual effects.</text>
<text font-size="14.6" transform="translate(3.3 1377.5) scale(1 1.04)" style="word-spacing:1.847px">[2] The charts present a series of sensitivity tests around the baseline scenario, as well as alternative policy scenarios, in particular: the historical structural primary balance (SPB)</text>
<text font-size="14.6" transform="translate(3.3 1396.3) scale(1 1.04)" style="word-spacing:0.860px">scenario (where the SPB is set at its historical average), the Stability and Growth Pact (SGP) scenario (where fiscal policy is assumed to evolve in line with the main provisions of the</text>
<text font-size="14.6" transform="translate(3.3 1415.5) scale(1 1.04)" style="word-spacing:0.475px">SGP), a higher interest rate scenario (+1 pp. compared to the baseline), a lower GDP growth scenario (-0.5 pp. compared to the baseline) and a negative shock on the SPB (calibrated</text>
<text font-size="14.6" transform="translate(3.3 1434.3) scale(1 1.04)" style="word-spacing:2.695px">on the basis of the forecasted change). An adverse combined scenario and enhanced sensitivity tests (on the interest rate and growth) are also included, as well as stochastic</text>
<text font-size="14.6" transform="translate(3.3 1453.7) scale(1 1.04)" textLength="753.7" lengthAdjust="spacingAndGlyphs">projections. Detailed information on the design of these projections can be found in the FSR 2018 and the DSM 2019.</text>
<text font-size="14.6" transform="translate(3.3 1476.5) scale(1 1.04)" textLength="664.2" lengthAdjust="spacingAndGlyphs">[3] The second table presents the overall fiscal risk classification over the short, medium and long term.</text>
<text font-size="14.6" transform="translate(26.6 1498) scale(1 1.04)" textLength="1170.4" lengthAdjust="spacingAndGlyphs">a. For the short-term, the risk category (low/high) is based on the S0 indicator. S0 is an early-detection indicator of fiscal stress in the upcoming year, based on 25 fiscal and financial-</text>
<text font-size="14.6" transform="translate(26.6 1517) scale(1 1.04)" textLength="1058.4" lengthAdjust="spacingAndGlyphs">competitiveness variables that have proven in the past to be leading indicators of fiscal stress. The critical threshold beyond which fiscal distress is signalled is 0.46.</text>
<text font-size="14.6" transform="translate(26.6 1538.8) scale(1 1.04)" textLength="1144.4" lengthAdjust="spacingAndGlyphs">b. For the medium term, the risk category (low/medium/high) is based on the joint use of the S1 indicator and of the DSA results. The S1 indicator measures the fiscal adjustment</text>
<text font-size="14.6" transform="translate(26.6 1558) scale(1 1.04)" textLength="1170.4" lengthAdjust="spacingAndGlyphs">required (cumulated over the 5 years following the forecast horizon and sustained after that) to bring the debt-to-GDP ratio to 60 % by 2034. The critical values used are 0 and 2.5 pps</text>
<text font-size="14.6" transform="translate(26.6 1576.8) scale(1 1.04)" textLength="1142.4" lengthAdjust="spacingAndGlyphs">of GDP. The DSA classification is based on the results of five deterministic scenarios (baseline, historical SPB, higher interest rate, lower GDP growth and negative shock on the</text>
<text font-size="14.6" transform="translate(26.6 1595.8) scale(1 1.04)" textLength="1140.4" lengthAdjust="spacingAndGlyphs">SPB scenarios) and the stochastic projections. Different criteria are used such as the projected debt level, the debt path, the realism of fiscal assumptions, the probability of debt</text>
<text font-size="14.6" transform="translate(26.6 1615) scale(1 1.04)" textLength="269.9" lengthAdjust="spacingAndGlyphs">stabilisation, and the size of uncertainties.</text>
<text font-size="14.6" transform="translate(26.6 1634.3) scale(1 1.04)" textLength="1140.4" lengthAdjust="spacingAndGlyphs">c. For the long term, the risk category (low/medium/high) is based on the joint use of the S2 indicator and the DSA results. The S2 indicator measures the upfront and permanent</text>
<text font-size="14.6" transform="translate(26.6 1653.3) scale(1 1.04)" textLength="1158.4" lengthAdjust="spacingAndGlyphs">fiscal adjustment required to stabilise the debt-to-GDP ratio over the infinite horizon, including the costs of ageing. The critical values used are 2 and 6 pps of GDP. The DSA results</text>
<text font-size="14.6" transform="translate(26.6 1672) scale(1 1.04)" textLength="1000.9" lengthAdjust="spacingAndGlyphs">are used to further qualify the long term risk classification, in particular in cases when debt vulnerabilities are identified (a medium / high DSA risk category).</text>
</svg>
</body></html>
